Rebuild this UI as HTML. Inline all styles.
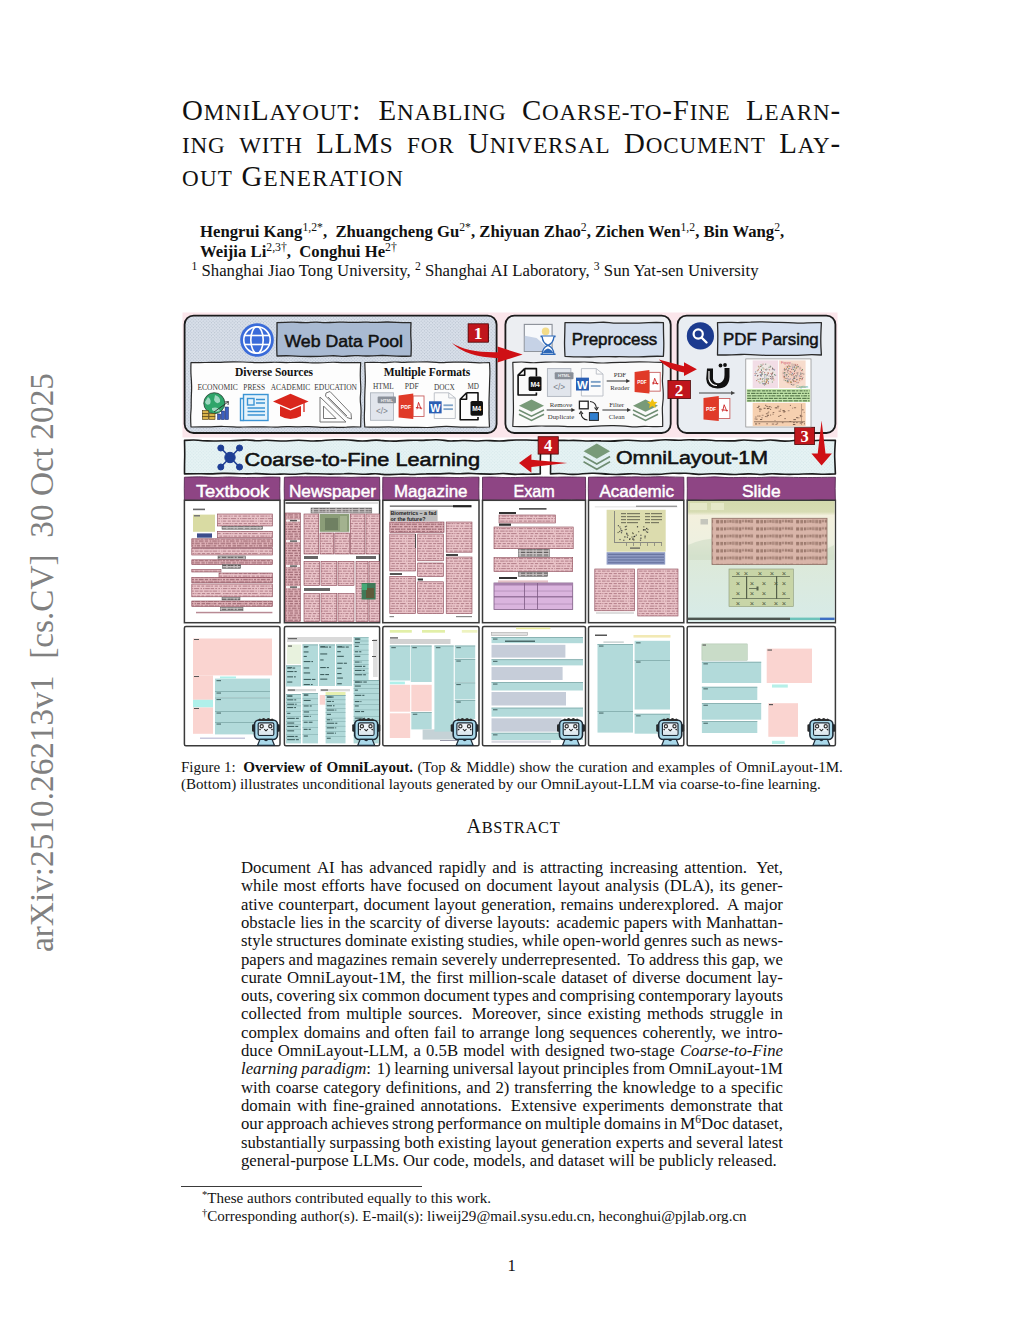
<!DOCTYPE html>
<html><head><meta charset="utf-8">
<style>
html,body{margin:0;padding:0;background:#fff;}
body{width:1024px;height:1325px;position:relative;overflow:hidden;font-family:"Liberation Serif",serif;color:#111;}
.a{position:absolute;}
.ln{position:absolute;white-space:nowrap;}
.fl{position:absolute;display:flex;justify-content:space-between;white-space:nowrap;}
.sc{font-size:0.8em;}
sup{font-size:0.7em;line-height:0;vertical-align:0.5em;font-weight:normal;}
.title{font-size:28.9px;line-height:33px;letter-spacing:0.8px;}
.auth{font-size:16.7px;font-weight:bold;}
.body{font-size:16.73px;line-height:19px;}
.cap{font-size:15.06px;line-height:16.7px;}
.fn{font-size:15.06px;line-height:17px;}
</style></head><body>
<div class="ln" id="arx" style="left:0;top:0;font-size:33.3px;color:#808080;transform-origin:0 0;transform:translate(25px,952px) rotate(-90deg);line-height:1;">arXiv:2510.26213v1&nbsp;&nbsp;[cs.CV]&nbsp;&nbsp;30 Oct 2025</div>
<div class="fl title" style="left:182px;top:93.5px;width:659px;"><span style="margin-right:2px">O<span class="sc">MNI</span>L<span class="sc">AYOUT</span>:</span><span>E<span class="sc">NABLING</span></span><span>C<span class="sc">OARSE-TO</span>-F<span class="sc">INE</span></span><span>L<span class="sc">EARN</span>-</span></div>
<div class="fl title" style="left:182px;top:126.5px;width:659px;"><span><span class="sc">ING</span></span><span><span class="sc">WITH</span></span><span>LLM<span class="sc">S</span></span><span><span class="sc">FOR</span></span><span>U<span class="sc">NIVERSAL</span></span><span>D<span class="sc">OCUMENT</span></span><span>L<span class="sc">AY</span>-</span></div>
<div class="ln title" style="left:182px;top:159.5px;letter-spacing:1.2px;"><span class="sc">OUT</span> G<span class="sc">ENERATION</span></div>
<div class="ln auth" style="left:200px;top:222px;">Hengrui Kang<sup>1,2*</sup>, &nbsp;Zhuangcheng Gu<sup>2*</sup>, Zhiyuan Zhao<sup>2</sup>, Zichen Wen<sup>1,2</sup>, Bin Wang<sup>2</sup>,</div>
<div class="ln auth" style="left:200px;top:242px;">Weijia Li<sup>2,3†</sup>, &nbsp;Conghui He<sup>2†</sup></div>
<div class="ln body" style="left:191.5px;top:261px;"><sup>1</sup> Shanghai Jiao Tong University, <sup>2</sup> Shanghai AI Laboratory, <sup>3</sup> Sun Yat-sen University</div>
<svg class="a" style="left:0;top:0" width="1024" height="760" viewBox="0 0 1024 760"><defs>
<pattern id="hatchA" width="2.3" height="2.3" patternUnits="userSpaceOnUse" patternTransform="rotate(45)"><rect width="2.3" height="2.3" fill="#d9e0ea"/><rect width="1.15" height="1.15" fill="#b9c3d0"/></pattern>
<pattern id="hatchB" width="2.3" height="2.3" patternUnits="userSpaceOnUse" patternTransform="rotate(45)"><rect width="2.3" height="2.3" fill="#e6f3f4"/><rect width="1.15" height="1.15" fill="#d6e8ea"/></pattern>
<pattern id="ptxt" width="37" height="10" patternUnits="userSpaceOnUse"><rect width="37" height="10" fill="#e9c3c8"/><rect x="0.7" y="0.6" width="3.5" height="1.0" fill="#9a606c" opacity="0.7"/><rect x="5.7" y="0.6" width="3.1" height="1.0" fill="#9a606c" opacity="0.7"/><rect x="10.0" y="0.6" width="3.6" height="1.0" fill="#9a606c" opacity="0.7"/><rect x="14.5" y="0.6" width="3.3" height="1.0" fill="#9a606c" opacity="0.7"/><rect x="19.1" y="0.6" width="4.6" height="1.0" fill="#9a606c" opacity="0.7"/><rect x="24.4" y="0.6" width="2.4" height="1.0" fill="#9a606c" opacity="0.7"/><rect x="27.6" y="0.6" width="4.6" height="1.0" fill="#9a606c" opacity="0.7"/><rect x="33.5" y="0.6" width="1.2" height="1.0" fill="#9a606c" opacity="0.7"/><rect x="36.3" y="0.6" width="0.7" height="1.0" fill="#9a606c" opacity="0.7"/><rect x="0.9" y="3.1" width="1.7" height="1.0" fill="#9a606c" opacity="0.7"/><rect x="3.3" y="3.1" width="3.4" height="1.0" fill="#9a606c" opacity="0.7"/><rect x="7.5" y="3.1" width="1.9" height="1.0" fill="#9a606c" opacity="0.7"/><rect x="10.3" y="3.1" width="1.1" height="1.0" fill="#9a606c" opacity="0.7"/><rect x="12.5" y="3.1" width="3.0" height="1.0" fill="#9a606c" opacity="0.7"/><rect x="16.9" y="3.1" width="3.3" height="1.0" fill="#9a606c" opacity="0.7"/><rect x="21.6" y="3.1" width="3.2" height="1.0" fill="#9a606c" opacity="0.7"/><rect x="26.1" y="3.1" width="3.1" height="1.0" fill="#9a606c" opacity="0.7"/><rect x="30.1" y="3.1" width="5.5" height="1.0" fill="#9a606c" opacity="0.7"/><rect x="1.3" y="5.6" width="4.2" height="1.0" fill="#9a606c" opacity="0.7"/><rect x="6.4" y="5.6" width="2.0" height="1.0" fill="#9a606c" opacity="0.7"/><rect x="9.4" y="5.6" width="1.3" height="1.0" fill="#9a606c" opacity="0.7"/><rect x="12.1" y="5.6" width="2.8" height="1.0" fill="#9a606c" opacity="0.7"/><rect x="16.4" y="5.6" width="2.7" height="1.0" fill="#9a606c" opacity="0.7"/><rect x="20.7" y="5.6" width="4.8" height="1.0" fill="#9a606c" opacity="0.7"/><rect x="26.2" y="5.6" width="1.9" height="1.0" fill="#9a606c" opacity="0.7"/><rect x="29.7" y="5.6" width="3.1" height="1.0" fill="#9a606c" opacity="0.7"/><rect x="34.4" y="5.6" width="2.6" height="1.0" fill="#9a606c" opacity="0.7"/><rect x="0.9" y="8.1" width="4.5" height="1.0" fill="#9a606c" opacity="0.7"/><rect x="6.4" y="8.1" width="1.4" height="1.0" fill="#9a606c" opacity="0.7"/><rect x="8.8" y="8.1" width="5.3" height="1.0" fill="#9a606c" opacity="0.7"/><rect x="15.5" y="8.1" width="1.5" height="1.0" fill="#9a606c" opacity="0.7"/><rect x="18.0" y="8.1" width="1.5" height="1.0" fill="#9a606c" opacity="0.7"/><rect x="20.2" y="8.1" width="4.6" height="1.0" fill="#9a606c" opacity="0.7"/><rect x="25.6" y="8.1" width="3.5" height="1.0" fill="#9a606c" opacity="0.7"/><rect x="30.2" y="8.1" width="1.9" height="1.0" fill="#9a606c" opacity="0.7"/><rect x="33.4" y="8.1" width="1.6" height="1.0" fill="#9a606c" opacity="0.7"/><rect x="36.3" y="8.1" width="0.7" height="1.0" fill="#9a606c" opacity="0.7"/></pattern>
<pattern id="ptxt2" width="31" height="9.6" patternUnits="userSpaceOnUse"><rect width="31" height="9.6" fill="#e0b3b9"/><rect x="0.3" y="0.6" width="2.1" height="1.1" fill="#844c58" opacity="0.8"/><rect x="4.0" y="0.6" width="4.2" height="1.1" fill="#844c58" opacity="0.8"/><rect x="9.2" y="0.6" width="4.5" height="1.1" fill="#844c58" opacity="0.8"/><rect x="14.6" y="0.6" width="2.6" height="1.1" fill="#844c58" opacity="0.8"/><rect x="18.6" y="0.6" width="3.6" height="1.1" fill="#844c58" opacity="0.8"/><rect x="23.0" y="0.6" width="5.0" height="1.1" fill="#844c58" opacity="0.8"/><rect x="28.8" y="0.6" width="2.0" height="1.1" fill="#844c58" opacity="0.8"/><rect x="0.5" y="3.0" width="2.2" height="1.1" fill="#844c58" opacity="0.8"/><rect x="3.4" y="3.0" width="1.4" height="1.1" fill="#844c58" opacity="0.8"/><rect x="6.0" y="3.0" width="2.0" height="1.1" fill="#844c58" opacity="0.8"/><rect x="9.2" y="3.0" width="2.5" height="1.1" fill="#844c58" opacity="0.8"/><rect x="12.8" y="3.0" width="4.8" height="1.1" fill="#844c58" opacity="0.8"/><rect x="18.8" y="3.0" width="3.3" height="1.1" fill="#844c58" opacity="0.8"/><rect x="23.6" y="3.0" width="1.7" height="1.1" fill="#844c58" opacity="0.8"/><rect x="26.2" y="3.0" width="4.6" height="1.1" fill="#844c58" opacity="0.8"/><rect x="0.4" y="5.4" width="1.8" height="1.1" fill="#844c58" opacity="0.8"/><rect x="3.5" y="5.4" width="4.8" height="1.1" fill="#844c58" opacity="0.8"/><rect x="9.1" y="5.4" width="4.8" height="1.1" fill="#844c58" opacity="0.8"/><rect x="15.4" y="5.4" width="3.4" height="1.1" fill="#844c58" opacity="0.8"/><rect x="19.9" y="5.4" width="1.4" height="1.1" fill="#844c58" opacity="0.8"/><rect x="22.1" y="5.4" width="4.9" height="1.1" fill="#844c58" opacity="0.8"/><rect x="27.8" y="5.4" width="3.2" height="1.1" fill="#844c58" opacity="0.8"/><rect x="1.2" y="7.8" width="3.4" height="1.1" fill="#844c58" opacity="0.8"/><rect x="5.6" y="7.8" width="1.7" height="1.1" fill="#844c58" opacity="0.8"/><rect x="8.6" y="7.8" width="1.3" height="1.1" fill="#844c58" opacity="0.8"/><rect x="10.8" y="7.8" width="3.2" height="1.1" fill="#844c58" opacity="0.8"/><rect x="15.5" y="7.8" width="3.5" height="1.1" fill="#844c58" opacity="0.8"/><rect x="19.9" y="7.8" width="4.7" height="1.1" fill="#844c58" opacity="0.8"/><rect x="25.5" y="7.8" width="1.1" height="1.1" fill="#844c58" opacity="0.8"/><rect x="27.5" y="7.8" width="2.8" height="1.1" fill="#844c58" opacity="0.8"/></pattern>
<pattern id="gtxt" width="23" height="2.6" patternUnits="userSpaceOnUse"><rect width="23" height="2.6" fill="#cbc6c6"/><rect x="0.3" y="0.6" width="3.2" height="1.1" fill="#5e5a5a" opacity="1"/><rect x="4.6" y="0.6" width="2.1" height="1.1" fill="#5e5a5a" opacity="1"/><rect x="7.8" y="0.6" width="5.5" height="1.1" fill="#5e5a5a" opacity="1"/><rect x="14.8" y="0.6" width="4.5" height="1.1" fill="#5e5a5a" opacity="1"/><rect x="20.6" y="0.6" width="2.4" height="1.1" fill="#5e5a5a" opacity="1"/></pattern>
<pattern id="ltxt" width="6" height="6.5" patternUnits="userSpaceOnUse"><rect width="6" height="6.5" fill="#dab4de"/><rect x="0" y="5.8" width="6" height="0.5" fill="#9a78a0"/></pattern>
<pattern id="stxt" width="40" height="7.3" patternUnits="userSpaceOnUse"><rect width="40" height="7.3" fill="#d9b5a9"/><rect x="0.3" y="1.7" width="2.7" height="3.3" fill="#8a685c" opacity="0.71"/><rect x="3.9" y="1.8" width="2.0" height="3.0" fill="#8a685c" opacity="0.77"/><rect x="6.3" y="1.6" width="2.6" height="3.0" fill="#8a685c" opacity="0.45"/><rect x="9.3" y="1.7" width="2.3" height="2.6" fill="#8a685c" opacity="0.73"/><rect x="12.0" y="1.4" width="2.7" height="3.3" fill="#8a685c" opacity="0.52"/><rect x="15.2" y="1.5" width="3.2" height="3.4" fill="#8a685c" opacity="0.64"/><rect x="19.1" y="1.7" width="2.2" height="3.4" fill="#8a685c" opacity="0.76"/><rect x="21.8" y="1.5" width="2.4" height="2.5" fill="#8a685c" opacity="0.56"/><rect x="24.9" y="1.5" width="2.0" height="2.7" fill="#8a685c" opacity="0.74"/><rect x="27.5" y="1.7" width="2.4" height="2.5" fill="#8a685c" opacity="0.79"/><rect x="30.2" y="1.4" width="2.9" height="3.2" fill="#8a685c" opacity="0.58"/><rect x="36.1" y="1.7" width="3.1" height="3.3" fill="#8a685c" opacity="0.78"/></pattern>
</defs>
<rect x="182.5" y="312.5" width="655.0" height="125.0" rx="0" fill="#fbe6eb" stroke="none" stroke-width="0" />
<rect x="184.6" y="315.6" width="312.0" height="117.4" rx="9" fill="url(#hatchA)" stroke="#1c1c1c" stroke-width="1.8" />
<g transform="translate(257,340)"><circle r="16.8" fill="#3a6bd9"/><circle r="13.2" fill="none" stroke="#fff" stroke-width="1.6"/><ellipse rx="6.2" ry="13.2" fill="none" stroke="#fff" stroke-width="1.6"/><line x1="-13" y1="-4.5" x2="13" y2="-4.5" stroke="#fff" stroke-width="1.6"/><line x1="-13" y1="4.5" x2="13" y2="4.5" stroke="#fff" stroke-width="1.6"/></g>
<path d="M277.0,322.6 Q286.6,322.4 291.4,322.2 Q296.1,322.1 300.9,322.5 Q305.7,322.8 310.5,322.4 Q315.3,322.0 320.1,322.3 Q324.9,322.7 329.6,322.5 Q334.4,322.4 339.2,322.2 Q344.0,322.0 348.8,322.3 Q353.6,322.6 358.4,322.3 Q363.1,322.0 367.9,322.2 Q372.7,322.5 377.5,322.3 Q382.3,322.0 387.1,322.0 Q391.9,322.0 396.6,322.3 Q401.4,322.5 411.0,322.6 Q410.5,333.7 411.0,339.3 Q411.5,344.9 411.0,356.0 Q401.4,356.4 396.6,356.1 Q391.9,355.8 387.1,355.6 Q382.3,355.4 377.5,355.6 Q372.7,355.9 367.9,356.0 Q363.1,356.1 358.4,355.7 Q353.6,355.3 348.8,356.0 Q344.0,356.6 339.2,356.1 Q334.4,355.5 329.6,355.9 Q324.9,356.3 320.1,356.4 Q315.3,356.5 310.5,356.5 Q305.7,356.5 300.9,356.4 Q296.1,356.3 291.4,355.9 Q286.6,355.6 277.0,356.0 Q276.6,344.9 276.8,339.3 Q277.1,333.7 277.0,322.6Z" fill="#a9bad2" stroke="#2a2a2a" stroke-width="1.3" stroke-linejoin="round" />
<text x="284.5" y="346.5" font-family="Liberation Sans" font-size="17" font-weight="normal" fill="#111" text-anchor="start" textLength="118.5" lengthAdjust="spacingAndGlyphs" stroke="#111" stroke-width="0.5">Web Data Pool</text>
<rect x="468.8" y="325.0" width="19.5" height="16.6" rx="0" fill="#c0161c" stroke="#4a0808" stroke-width="0.8" />
<text x="478.6" y="338.6" font-family="Liberation Serif" font-size="15.770000000000021" font-weight="bold" fill="#fff" text-anchor="middle" >1</text>
<path d="M191.0,362.5 Q200.4,362.7 205.1,362.5 Q209.9,362.3 214.6,362.4 Q219.3,362.6 224.0,362.2 Q228.7,361.9 233.4,361.9 Q238.1,361.9 242.9,362.0 Q247.6,362.1 252.3,362.4 Q257.0,362.8 261.7,362.6 Q266.4,362.4 271.1,362.3 Q275.9,362.2 280.6,362.4 Q285.3,362.6 290.0,362.5 Q294.7,362.4 299.4,362.3 Q304.1,362.2 308.8,362.6 Q313.6,362.9 318.3,362.8 Q323.0,362.8 327.7,362.5 Q332.4,362.1 337.1,362.4 Q341.8,362.6 346.6,362.6 Q351.3,362.5 360.7,362.5 Q360.2,371.7 360.3,376.3 Q360.4,380.9 360.7,385.5 Q361.0,390.1 360.5,394.8 Q360.0,399.4 360.6,404.0 Q361.2,408.6 361.0,413.2 Q360.8,417.8 360.7,427.0 Q351.3,426.6 346.6,427.1 Q341.8,427.5 337.1,427.3 Q332.4,427.0 327.7,427.3 Q323.0,427.6 318.3,427.2 Q313.6,426.8 308.8,426.7 Q304.1,426.6 299.4,426.8 Q294.7,426.9 290.0,426.7 Q285.3,426.5 280.6,426.9 Q275.9,427.3 271.1,427.0 Q266.4,426.7 261.7,426.8 Q257.0,426.9 252.3,426.9 Q247.6,426.9 242.9,427.0 Q238.1,427.1 233.4,426.8 Q228.7,426.5 224.0,426.5 Q219.3,426.4 214.6,426.7 Q209.9,427.0 205.1,426.9 Q200.4,426.8 191.0,427.0 Q190.4,417.8 190.8,413.2 Q191.3,408.6 191.2,404.0 Q191.2,399.4 191.4,394.8 Q191.7,390.1 191.6,385.5 Q191.5,380.9 191.1,376.3 Q190.7,371.7 191.0,362.5Z" fill="#fdfdfd" stroke="#2a2a2a" stroke-width="1.2" stroke-linejoin="round" />
<text x="274.0" y="375.5" font-family="Liberation Serif" font-size="11.5" font-weight="bold" fill="#111" text-anchor="middle" >Diverse Sources</text>
<text x="197.4" y="389.6" font-family="Liberation Serif" font-size="7.3" font-weight="normal" fill="#3a3a3a" text-anchor="start" textLength="40.3" lengthAdjust="spacingAndGlyphs" >ECONOMIC</text>
<text x="243.3" y="389.6" font-family="Liberation Serif" font-size="7.3" font-weight="normal" fill="#3a3a3a" text-anchor="start" textLength="21.7" lengthAdjust="spacingAndGlyphs" >PRESS</text>
<text x="270.7" y="389.6" font-family="Liberation Serif" font-size="7.3" font-weight="normal" fill="#3a3a3a" text-anchor="start" textLength="39.5" lengthAdjust="spacingAndGlyphs" >ACADEMIC</text>
<text x="314.2" y="389.6" font-family="Liberation Serif" font-size="7.3" font-weight="normal" fill="#3a3a3a" text-anchor="start" textLength="42.8" lengthAdjust="spacingAndGlyphs" >EDUCATION</text>
<path d="M364.8,362.5 Q374.4,362.3 379.2,362.5 Q384.0,362.7 388.8,362.3 Q393.6,361.8 398.4,362.1 Q403.2,362.4 408.0,362.2 Q412.8,362.0 417.6,362.0 Q422.4,362.0 427.1,361.9 Q431.9,361.9 436.7,362.4 Q441.5,362.9 446.3,362.4 Q451.1,362.0 455.9,362.1 Q460.7,362.1 465.5,362.2 Q470.3,362.3 475.1,362.7 Q479.9,363.0 489.5,362.5 Q490.1,371.7 489.8,376.3 Q489.6,380.9 489.5,385.5 Q489.4,390.1 489.2,394.8 Q489.0,399.4 489.0,404.0 Q489.1,408.6 489.0,413.2 Q489.0,417.8 489.5,427.0 Q479.9,427.3 475.1,427.2 Q470.3,427.1 465.5,427.2 Q460.7,427.2 455.9,426.8 Q451.1,426.5 446.3,426.4 Q441.5,426.4 436.7,426.9 Q431.9,427.5 427.1,427.5 Q422.4,427.5 417.6,427.4 Q412.8,427.4 408.0,427.4 Q403.2,427.4 398.4,427.2 Q393.6,427.0 388.8,426.9 Q384.0,426.9 379.2,427.1 Q374.4,427.3 364.8,427.0 Q364.1,417.8 364.4,413.2 Q364.7,408.6 364.7,404.0 Q364.6,399.4 364.8,394.8 Q364.9,390.1 365.2,385.5 Q365.4,380.9 365.3,376.3 Q365.1,371.7 364.8,362.5Z" fill="#fdfdfd" stroke="#2a2a2a" stroke-width="1.2" stroke-linejoin="round" />
<text x="427.0" y="375.5" font-family="Liberation Serif" font-size="11.5" font-weight="bold" fill="#111" text-anchor="middle" >Multiple Formats</text>
<text x="373.0" y="388.8" font-family="Liberation Serif" font-size="7.3" font-weight="normal" fill="#3a3a3a" text-anchor="start" textLength="20.7" lengthAdjust="spacingAndGlyphs" >HTML</text>
<text x="404.7" y="388.8" font-family="Liberation Serif" font-size="7.3" font-weight="normal" fill="#3a3a3a" text-anchor="start" textLength="14.0" lengthAdjust="spacingAndGlyphs" >PDF</text>
<text x="434.0" y="389.5" font-family="Liberation Serif" font-size="7.3" font-weight="normal" fill="#3a3a3a" text-anchor="start" textLength="20.7" lengthAdjust="spacingAndGlyphs" >DOCX</text>
<text x="467.5" y="388.8" font-family="Liberation Serif" font-size="7.3" font-weight="normal" fill="#3a3a3a" text-anchor="start" textLength="11.5" lengthAdjust="spacingAndGlyphs" >MD</text>
<rect x="505.4" y="315.6" width="165.3" height="117.4" rx="9" fill="#eceef2" stroke="#1c1c1c" stroke-width="1.8" />
<path d="M565.0,322.6 Q574.8,322.6 579.8,322.7 Q584.7,322.8 589.6,322.8 Q594.5,322.8 599.4,322.4 Q604.4,322.0 609.3,322.6 Q614.2,323.2 619.1,323.1 Q624.0,323.0 629.0,323.1 Q633.9,323.1 638.8,323.1 Q643.7,323.0 648.6,322.7 Q653.6,322.4 663.4,322.6 Q663.5,333.8 663.7,339.5 Q664.0,345.1 663.4,356.3 Q653.6,356.1 648.6,356.5 Q643.7,356.9 638.8,356.9 Q633.9,356.9 629.0,356.8 Q624.0,356.7 619.1,356.7 Q614.2,356.8 609.3,356.6 Q604.4,356.5 599.4,356.7 Q594.5,356.9 589.6,357.0 Q584.7,357.0 579.8,356.9 Q574.8,356.8 565.0,356.3 Q564.4,345.1 564.6,339.5 Q564.8,333.8 565.0,322.6Z" fill="#d5dfee" stroke="#2a2a2a" stroke-width="1.3" stroke-linejoin="round" />
<text x="571.8" y="344.8" font-family="Liberation Sans" font-size="16.5" font-weight="normal" fill="#111" text-anchor="start" textLength="85.5" lengthAdjust="spacingAndGlyphs" stroke="#111" stroke-width="0.5">Preprocess</text>
<path d="M512.8,362.4 Q522.2,361.7 526.9,362.3 Q531.5,362.9 536.2,362.7 Q540.9,362.6 545.6,362.2 Q550.3,361.9 555.0,362.0 Q559.6,362.1 564.3,362.1 Q569.0,362.2 573.7,362.2 Q578.4,362.2 583.1,362.0 Q587.8,361.9 592.4,362.4 Q597.1,362.9 601.8,363.0 Q606.5,363.1 611.2,362.7 Q615.9,362.4 620.5,362.4 Q625.2,362.4 629.9,362.1 Q634.6,361.8 639.3,361.8 Q644.0,361.8 648.6,362.0 Q653.3,362.2 662.7,362.4 Q663.0,371.5 662.6,376.1 Q662.2,380.7 662.7,385.2 Q663.2,389.8 663.3,394.4 Q663.4,398.9 662.7,403.5 Q662.1,408.0 662.4,412.6 Q662.7,417.2 662.7,426.3 Q653.3,426.8 648.6,426.5 Q644.0,426.2 639.3,426.6 Q634.6,427.0 629.9,426.6 Q625.2,426.3 620.5,425.9 Q615.9,425.6 611.2,425.7 Q606.5,425.8 601.8,425.9 Q597.1,426.0 592.4,426.3 Q587.8,426.6 583.1,426.6 Q578.4,426.5 573.7,426.6 Q569.0,426.8 564.3,426.3 Q559.6,425.9 555.0,426.1 Q550.3,426.3 545.6,426.1 Q540.9,425.9 536.2,426.2 Q531.5,426.5 526.9,426.6 Q522.2,426.7 512.8,426.3 Q513.2,417.2 513.4,412.6 Q513.5,408.0 513.4,403.5 Q513.3,398.9 513.3,394.4 Q513.2,389.8 513.2,385.2 Q513.2,380.7 513.2,376.1 Q513.1,371.5 512.8,362.4Z" fill="#fafafa" stroke="#2a2a2a" stroke-width="1.2" stroke-linejoin="round" />
<rect x="677.6" y="315.6" width="157.8" height="117.4" rx="9" fill="#e9edf2" stroke="#1c1c1c" stroke-width="1.8" />
<path d="M717.5,322.6 Q726.9,322.2 731.7,322.4 Q736.4,322.6 741.1,322.5 Q745.8,322.4 750.6,322.2 Q755.3,321.9 760.0,321.9 Q764.7,321.9 769.5,322.1 Q774.2,322.3 778.9,322.3 Q783.6,322.3 788.3,322.6 Q793.1,322.9 797.8,323.1 Q802.5,323.2 807.2,322.9 Q812.0,322.5 821.4,322.6 Q820.8,333.4 820.8,338.8 Q820.7,344.2 821.4,355.0 Q812.0,354.4 807.2,354.8 Q802.5,355.2 797.8,355.3 Q793.1,355.4 788.3,355.4 Q783.6,355.4 778.9,355.4 Q774.2,355.4 769.5,355.4 Q764.7,355.4 760.0,355.1 Q755.3,354.8 750.6,354.6 Q745.8,354.4 741.1,354.5 Q736.4,354.5 731.7,354.8 Q726.9,355.0 717.5,355.0 Q717.7,344.2 717.8,338.8 Q717.9,333.4 717.5,322.6Z" fill="#d5e0f0" stroke="#2a2a2a" stroke-width="1.3" stroke-linejoin="round" />
<text x="723.0" y="345.2" font-family="Liberation Sans" font-size="16.5" font-weight="normal" fill="#111" text-anchor="start" textLength="95.7" lengthAdjust="spacingAndGlyphs" stroke="#111" stroke-width="0.5">PDF Parsing</text>
<path d="M184.5,440.4 Q193.6,439.7 198.2,440.2 Q202.7,440.7 207.3,440.9 Q211.9,441.1 216.4,441.0 Q221.0,440.9 225.6,440.8 Q230.1,440.8 234.7,440.6 Q239.2,440.4 243.8,440.1 Q248.4,439.9 252.9,440.4 Q257.5,440.9 262.0,440.5 Q266.6,440.1 271.2,440.5 Q275.7,440.9 280.3,441.0 Q284.9,441.2 289.4,440.7 Q294.0,440.2 298.5,440.2 Q303.1,440.2 307.7,440.7 Q312.2,441.1 316.8,440.9 Q321.3,440.8 325.9,440.3 Q330.5,439.9 335.0,439.8 Q339.6,439.8 344.2,439.8 Q348.7,439.8 353.3,440.4 Q357.8,441.0 362.4,441.0 Q367.0,440.9 371.5,440.4 Q376.1,439.8 380.6,440.4 Q385.2,440.9 389.8,441.0 Q394.3,441.2 398.9,440.9 Q403.5,440.7 408.0,440.4 Q412.6,440.2 417.1,440.3 Q421.7,440.5 426.3,440.1 Q430.8,439.8 435.4,439.7 Q439.9,439.6 444.5,440.4 Q449.1,441.2 453.6,440.9 Q458.2,440.6 462.8,440.5 Q467.3,440.4 471.9,440.8 Q476.4,441.1 481.0,440.7 Q485.6,440.3 490.1,440.6 Q494.7,441.0 499.2,441.0 Q503.8,440.9 508.4,440.4 Q512.9,439.9 517.5,440.0 Q522.1,440.0 526.6,440.0 Q531.2,440.1 540.3,440.4 Q540.7,451.6 540.4,457.1 Q540.2,462.7 540.3,473.9 Q531.2,474.3 526.6,474.2 Q522.1,474.0 517.5,474.3 Q512.9,474.5 508.4,473.9 Q503.8,473.2 499.2,473.7 Q494.7,474.1 490.1,474.1 Q485.6,474.0 481.0,473.9 Q476.4,473.8 471.9,473.5 Q467.3,473.3 462.8,473.6 Q458.2,474.0 453.6,473.6 Q449.1,473.2 444.5,473.6 Q439.9,473.9 435.4,473.9 Q430.8,473.8 426.3,473.9 Q421.7,473.9 417.1,474.3 Q412.6,474.7 408.0,474.3 Q403.5,474.0 398.9,474.2 Q394.3,474.4 389.8,474.6 Q385.2,474.7 380.6,474.1 Q376.1,473.4 371.5,473.9 Q367.0,474.4 362.4,474.2 Q357.8,473.9 353.3,473.7 Q348.7,473.5 344.2,473.7 Q339.6,473.8 335.0,474.0 Q330.5,474.2 325.9,474.0 Q321.3,473.9 316.8,473.8 Q312.2,473.8 307.7,473.6 Q303.1,473.4 298.5,474.0 Q294.0,474.5 289.4,474.2 Q284.9,473.8 280.3,474.1 Q275.7,474.3 271.2,474.3 Q266.6,474.3 262.0,473.9 Q257.5,473.5 252.9,473.7 Q248.4,473.9 243.8,473.8 Q239.2,473.8 234.7,473.6 Q230.1,473.5 225.6,473.4 Q221.0,473.2 216.4,473.6 Q211.9,474.0 207.3,473.9 Q202.7,473.7 198.2,473.8 Q193.6,473.9 184.5,473.9 Q184.5,462.7 184.7,457.1 Q184.8,451.6 184.5,440.4Z" fill="url(#hatchB)" stroke="#1c1c1c" stroke-width="1.6" stroke-linejoin="round" />
<path d="M550.5,440.4 Q559.7,440.3 564.3,440.4 Q568.9,440.5 573.5,440.4 Q578.1,440.4 582.7,440.7 Q587.3,441.1 591.9,440.9 Q596.5,440.7 601.0,440.9 Q605.6,441.0 610.2,441.1 Q614.8,441.1 619.4,440.6 Q624.0,440.0 628.6,440.3 Q633.2,440.5 637.8,440.8 Q642.4,441.1 647.0,441.0 Q651.6,440.9 656.2,440.4 Q660.8,439.8 665.4,439.8 Q670.0,439.8 674.6,440.1 Q679.2,440.3 683.8,440.0 Q688.4,439.7 693.0,439.9 Q697.5,440.0 702.1,439.9 Q706.7,439.7 711.3,440.2 Q715.9,440.7 720.5,440.8 Q725.1,440.9 729.7,440.9 Q734.3,441.0 738.9,440.4 Q743.5,439.8 748.1,440.3 Q752.7,440.7 757.3,440.7 Q761.9,440.7 766.5,440.2 Q771.1,439.8 775.7,440.4 Q780.3,441.0 784.9,441.1 Q789.4,441.1 794.0,440.5 Q798.6,440.0 803.2,440.5 Q807.8,441.1 812.4,440.7 Q817.0,440.2 821.6,440.3 Q826.2,440.4 835.4,440.4 Q834.6,451.6 834.7,457.1 Q834.9,462.7 835.4,473.9 Q826.2,474.4 821.6,474.2 Q817.0,474.0 812.4,473.9 Q807.8,473.9 803.2,474.0 Q798.6,474.2 794.0,474.3 Q789.4,474.4 784.9,474.3 Q780.3,474.2 775.7,473.9 Q771.1,473.5 766.5,474.1 Q761.9,474.7 757.3,474.2 Q752.7,473.8 748.1,473.9 Q743.5,474.0 738.9,474.3 Q734.3,474.7 729.7,474.4 Q725.1,474.2 720.5,473.9 Q715.9,473.7 711.3,473.8 Q706.7,473.9 702.1,474.2 Q697.5,474.6 693.0,473.9 Q688.4,473.1 683.8,473.3 Q679.2,473.4 674.6,473.3 Q670.0,473.1 665.4,473.8 Q660.8,474.5 656.2,474.4 Q651.6,474.3 647.0,474.5 Q642.4,474.6 637.8,474.0 Q633.2,473.5 628.6,473.9 Q624.0,474.3 619.4,474.4 Q614.8,474.5 610.2,474.3 Q605.6,474.0 601.0,473.6 Q596.5,473.2 591.9,473.3 Q587.3,473.4 582.7,473.8 Q578.1,474.3 573.5,474.4 Q568.9,474.5 564.3,473.8 Q559.7,473.2 550.5,473.9 Q550.6,462.7 550.7,457.1 Q550.8,451.6 550.5,440.4Z" fill="url(#hatchB)" stroke="#1c1c1c" stroke-width="1.6" stroke-linejoin="round" />
<text x="244.5" y="465.5" font-family="Liberation Sans" font-size="18.8" font-weight="normal" fill="#111" text-anchor="start" textLength="235.5" lengthAdjust="spacingAndGlyphs" stroke="#111" stroke-width="0.55">Coarse-to-Fine Learning</text>
<text x="616.0" y="464.0" font-family="Liberation Sans" font-size="18.8" font-weight="normal" fill="#111" text-anchor="start" textLength="152.0" lengthAdjust="spacingAndGlyphs" stroke="#111" stroke-width="0.55">OmniLayout-1M</text>
<path d="M184.4,477.2 Q194.0,476.8 198.7,476.8 Q203.5,476.8 208.3,477.1 Q213.1,477.4 217.9,477.3 Q222.6,477.1 227.4,476.9 Q232.2,476.8 237.0,477.2 Q241.8,477.6 246.5,477.5 Q251.3,477.3 256.1,477.4 Q260.9,477.5 265.7,477.1 Q270.4,476.8 280.0,477.2 Q279.6,488.8 280.0,500.3 Q270.4,500.7 265.7,500.3 Q260.9,499.9 256.1,500.1 Q251.3,500.3 246.5,500.4 Q241.8,500.5 237.0,500.4 Q232.2,500.2 227.4,500.1 Q222.6,499.9 217.9,500.2 Q213.1,500.5 208.3,500.6 Q203.5,500.7 198.7,500.5 Q194.0,500.3 184.4,500.3 Q184.1,488.8 184.4,477.2Z" fill="#8e4584" stroke="#4a1e46" stroke-width="0.8" stroke-linejoin="round" />
<text x="195.9" y="496.5" font-family="Liberation Sans" font-size="16.5" font-weight="normal" fill="#fff" text-anchor="start" textLength="73.4" lengthAdjust="spacingAndGlyphs" stroke="#fff" stroke-width="0.45">Textbook</text>
<path d="M284.4,477.2 Q293.9,476.8 298.7,476.8 Q303.4,476.9 308.2,476.8 Q313.0,476.8 317.7,476.8 Q322.5,476.9 327.2,477.0 Q332.0,477.0 336.8,477.0 Q341.5,477.0 346.3,477.2 Q351.0,477.5 355.8,477.2 Q360.6,477.0 365.3,477.1 Q370.1,477.2 379.6,477.2 Q379.9,488.8 379.6,500.3 Q370.1,500.5 365.3,500.6 Q360.6,500.8 355.8,500.7 Q351.0,500.5 346.3,500.7 Q341.5,500.8 336.8,500.4 Q332.0,500.1 327.2,500.2 Q322.5,500.2 317.7,500.4 Q313.0,500.6 308.2,500.5 Q303.4,500.3 298.7,500.1 Q293.9,499.9 284.4,500.3 Q284.0,488.8 284.4,477.2Z" fill="#8e4584" stroke="#4a1e46" stroke-width="0.8" stroke-linejoin="round" />
<text x="288.9" y="496.5" font-family="Liberation Sans" font-size="16.5" font-weight="normal" fill="#fff" text-anchor="start" textLength="87.1" lengthAdjust="spacingAndGlyphs" stroke="#fff" stroke-width="0.45">Newspaper</text>
<path d="M382.8,477.2 Q392.4,477.5 397.2,477.3 Q402.0,477.1 406.9,477.2 Q411.7,477.2 416.5,477.4 Q421.3,477.5 426.1,477.3 Q430.9,477.1 435.7,477.1 Q440.5,477.2 445.3,477.3 Q450.1,477.4 454.9,477.5 Q459.8,477.7 464.6,477.4 Q469.4,477.0 479.0,477.2 Q478.7,488.8 479.0,500.3 Q469.4,500.1 464.6,500.1 Q459.8,500.2 454.9,500.3 Q450.1,500.4 445.3,500.4 Q440.5,500.5 435.7,500.6 Q430.9,500.7 426.1,500.7 Q421.3,500.7 416.5,500.7 Q411.7,500.7 406.9,500.4 Q402.0,500.1 397.2,500.3 Q392.4,500.5 382.8,500.3 Q382.5,488.8 382.8,477.2Z" fill="#8e4584" stroke="#4a1e46" stroke-width="0.8" stroke-linejoin="round" />
<text x="394.0" y="496.5" font-family="Liberation Sans" font-size="16.5" font-weight="normal" fill="#fff" text-anchor="start" textLength="73.5" lengthAdjust="spacingAndGlyphs" stroke="#fff" stroke-width="0.45">Magazine</text>
<path d="M482.5,477.2 Q491.9,476.8 496.5,477.2 Q501.2,477.5 505.9,477.6 Q510.6,477.6 515.3,477.5 Q520.0,477.4 524.6,477.2 Q529.3,477.0 534.0,477.0 Q538.7,476.9 543.4,477.0 Q548.0,477.0 552.7,477.1 Q557.4,477.2 562.1,477.0 Q566.8,476.9 571.5,477.0 Q576.1,477.1 585.5,477.2 Q585.7,488.8 585.5,500.3 Q576.1,499.8 571.5,499.8 Q566.8,499.8 562.1,500.0 Q557.4,500.3 552.7,500.4 Q548.0,500.6 543.4,500.2 Q538.7,499.8 534.0,500.2 Q529.3,500.5 524.6,500.5 Q520.0,500.4 515.3,500.6 Q510.6,500.8 505.9,500.6 Q501.2,500.4 496.5,500.4 Q491.9,500.3 482.5,500.3 Q482.5,488.8 482.5,477.2Z" fill="#8e4584" stroke="#4a1e46" stroke-width="0.8" stroke-linejoin="round" />
<text x="513.4" y="496.5" font-family="Liberation Sans" font-size="16.5" font-weight="normal" fill="#fff" text-anchor="start" textLength="41.5" lengthAdjust="spacingAndGlyphs" stroke="#fff" stroke-width="0.45">Exam</text>
<path d="M588.5,477.2 Q598.0,476.9 602.8,477.1 Q607.6,477.2 612.3,477.0 Q617.1,476.7 621.9,476.8 Q626.6,477.0 631.4,476.9 Q636.1,476.8 640.9,476.9 Q645.7,477.1 650.4,476.9 Q655.2,476.7 660.0,476.7 Q664.7,476.7 669.5,476.9 Q674.3,477.0 683.8,477.2 Q684.1,488.8 683.8,500.3 Q674.3,500.2 669.5,500.2 Q664.7,500.3 660.0,500.2 Q655.2,500.0 650.4,500.1 Q645.7,500.1 640.9,500.1 Q636.1,500.1 631.4,500.0 Q626.6,499.9 621.9,500.2 Q617.1,500.4 612.3,500.4 Q607.6,500.5 602.8,500.1 Q598.0,499.8 588.5,500.3 Q588.1,488.8 588.5,477.2Z" fill="#8e4584" stroke="#4a1e46" stroke-width="0.8" stroke-linejoin="round" />
<text x="599.5" y="496.5" font-family="Liberation Sans" font-size="16.5" font-weight="normal" fill="#fff" text-anchor="start" textLength="74.5" lengthAdjust="spacingAndGlyphs" stroke="#fff" stroke-width="0.45">Academic</text>
<path d="M687.2,477.2 Q696.5,477.4 701.1,477.4 Q705.7,477.3 710.4,477.0 Q715.0,476.7 719.6,477.1 Q724.2,477.5 728.9,477.6 Q733.5,477.6 738.1,477.5 Q742.8,477.3 747.4,477.4 Q752.0,477.4 756.7,477.5 Q761.3,477.5 765.9,477.2 Q770.6,476.8 775.2,477.0 Q779.8,477.2 784.5,477.2 Q789.1,477.2 793.7,477.4 Q798.4,477.5 803.0,477.5 Q807.6,477.5 812.2,477.5 Q816.9,477.5 821.5,477.4 Q826.1,477.3 835.4,477.2 Q835.0,488.8 835.4,500.3 Q826.1,500.1 821.5,500.1 Q816.9,500.1 812.2,500.3 Q807.6,500.6 803.0,500.7 Q798.4,500.8 793.7,500.7 Q789.1,500.7 784.5,500.6 Q779.8,500.4 775.2,500.6 Q770.6,500.7 765.9,500.3 Q761.3,500.0 756.7,500.1 Q752.0,500.2 747.4,500.2 Q742.8,500.2 738.1,500.2 Q733.5,500.2 728.9,500.1 Q724.2,500.1 719.6,500.2 Q715.0,500.3 710.4,500.6 Q705.7,500.8 701.1,500.4 Q696.5,500.0 687.2,500.3 Q687.4,488.8 687.2,477.2Z" fill="#8e4584" stroke="#4a1e46" stroke-width="0.8" stroke-linejoin="round" />
<text x="742.0" y="496.5" font-family="Liberation Sans" font-size="16.5" font-weight="normal" fill="#fff" text-anchor="start" textLength="38.6" lengthAdjust="spacingAndGlyphs" stroke="#fff" stroke-width="0.45">Slide</text>
<rect x="184.4" y="500.3" width="95.6" height="122.4" rx="0" fill="#ffffff" stroke="#3a3a3a" stroke-width="1.5" />
<rect x="184.4" y="626.5" width="95.6" height="119.2" rx="1.5" fill="#ffffff" stroke="#3a3a3a" stroke-width="1.5" />
<rect x="284.4" y="500.3" width="95.2" height="122.4" rx="0" fill="#ffffff" stroke="#3a3a3a" stroke-width="1.5" />
<rect x="284.4" y="626.5" width="95.2" height="119.2" rx="1.5" fill="#ffffff" stroke="#3a3a3a" stroke-width="1.5" />
<rect x="382.8" y="500.3" width="96.2" height="122.4" rx="0" fill="#ffffff" stroke="#3a3a3a" stroke-width="1.5" />
<rect x="382.8" y="626.5" width="96.2" height="119.2" rx="1.5" fill="#ffffff" stroke="#3a3a3a" stroke-width="1.5" />
<rect x="482.5" y="500.3" width="103.0" height="122.4" rx="0" fill="#ffffff" stroke="#3a3a3a" stroke-width="1.5" />
<rect x="482.5" y="626.5" width="103.0" height="119.2" rx="1.5" fill="#ffffff" stroke="#3a3a3a" stroke-width="1.5" />
<rect x="588.5" y="500.3" width="95.3" height="122.4" rx="0" fill="#ffffff" stroke="#3a3a3a" stroke-width="1.5" />
<rect x="588.5" y="626.5" width="95.3" height="119.2" rx="1.5" fill="#ffffff" stroke="#3a3a3a" stroke-width="1.5" />
<rect x="687.2" y="500.3" width="148.2" height="122.4" rx="0" fill="#ffffff" stroke="#3a3a3a" stroke-width="1.5" />
<rect x="687.2" y="626.5" width="148.2" height="119.2" rx="1.5" fill="#ffffff" stroke="#3a3a3a" stroke-width="1.5" />
<rect x="193.0" y="508.6" width="12.0" height="1.6" rx="0" fill="#666" stroke="none" stroke-width="0" />
<rect x="193.0" y="514.6" width="22.0" height="17.2" rx="0" fill="#d9dba3" stroke="none" stroke-width="0" />
<rect x="194.0" y="515.0" width="6.0" height="1.5" rx="0" fill="#777" stroke="none" stroke-width="0" />
<rect x="197.0" y="533.4" width="15.0" height="4.3" rx="0" fill="#3c4d8c" stroke="none" stroke-width="0" />
<rect x="217.6" y="514.0" width="54.8" height="12.0" rx="0" fill="url(#ptxt)" stroke="#8a4655" stroke-width="0.6" />
<rect x="222.0" y="526.5" width="40.7" height="2.7" rx="0" fill="url(#gtxt)" stroke="#555" stroke-width="0.5" />
<rect x="217.6" y="531.3" width="54.8" height="6.4" rx="0" fill="url(#ptxt)" stroke="#8a4655" stroke-width="0.6" />
<rect x="191.8" y="538.8" width="80.6" height="8.6" rx="0" fill="url(#ptxt2)" stroke="#8a4655" stroke-width="0.6" />
<rect x="191.8" y="548.5" width="80.6" height="6.5" rx="0" fill="url(#ptxt)" stroke="#8a4655" stroke-width="0.6" />
<rect x="218.0" y="556.0" width="27.5" height="3.2" rx="0" fill="url(#gtxt)" stroke="#555" stroke-width="0.5" />
<rect x="191.8" y="559.8" width="80.6" height="4.8" rx="0" fill="url(#ptxt2)" stroke="#8a4655" stroke-width="0.6" />
<rect x="222.4" y="564.4" width="18.3" height="4.0" rx="0" fill="url(#gtxt)" stroke="#555" stroke-width="0.5" />
<rect x="191.8" y="569.4" width="29.2" height="2.6" rx="0" fill="url(#ptxt)" stroke="#8a4655" stroke-width="0.6" />
<rect x="219.0" y="573.0" width="53.4" height="4.5" rx="0" fill="url(#ptxt)" stroke="#8a4655" stroke-width="0.6" />
<rect x="191.8" y="577.5" width="80.6" height="5.3" rx="0" fill="url(#ptxt2)" stroke="#8a4655" stroke-width="0.6" />
<rect x="191.8" y="584.0" width="80.6" height="12.8" rx="0" fill="url(#ptxt)" stroke="#8a4655" stroke-width="0.6" />
<rect x="222.0" y="597.4" width="18.0" height="2.6" rx="0" fill="url(#gtxt)" stroke="#555" stroke-width="0.5" />
<rect x="191.8" y="601.0" width="80.6" height="5.5" rx="0" fill="url(#ptxt2)" stroke="#8a4655" stroke-width="0.6" />
<rect x="220.6" y="607.5" width="22.4" height="3.3" rx="0" fill="url(#gtxt)" stroke="#555" stroke-width="0.5" />
<rect x="196.0" y="611.8" width="76.4" height="1.5" rx="0" fill="#b88a94" stroke="none" stroke-width="0" />
<rect x="285.5" y="502.0" width="44.5" height="2.0" rx="0" fill="#666" stroke="none" stroke-width="0" />
<rect x="330.0" y="502.5" width="48.0" height="1.0" rx="0" fill="#bbb" stroke="none" stroke-width="0" />
<rect x="311.0" y="508.0" width="60.8" height="5.0" rx="0" fill="url(#gtxt)" stroke="#555" stroke-width="0.5" />
<rect x="285.4" y="513.0" width="15.0" height="108.5" rx="0" fill="url(#ptxt2)" stroke="#8a4655" stroke-width="0.6" />
<rect x="286.0" y="519.5" width="14.0" height="2.2" rx="0" fill="#f4eeee" stroke="none" stroke-width="0" />
<rect x="290.0" y="519.9" width="7.0" height="1.4" rx="0" fill="#555" stroke="none" stroke-width="0" />
<rect x="286.0" y="540.0" width="14.0" height="2.2" rx="0" fill="#f4eeee" stroke="none" stroke-width="0" />
<rect x="290.0" y="540.4" width="7.0" height="1.4" rx="0" fill="#555" stroke="none" stroke-width="0" />
<rect x="286.0" y="565.0" width="14.0" height="2.2" rx="0" fill="#f4eeee" stroke="none" stroke-width="0" />
<rect x="290.0" y="565.4" width="7.0" height="1.4" rx="0" fill="#555" stroke="none" stroke-width="0" />
<rect x="286.0" y="586.0" width="14.0" height="2.2" rx="0" fill="#f4eeee" stroke="none" stroke-width="0" />
<rect x="290.0" y="586.4" width="7.0" height="1.4" rx="0" fill="#555" stroke="none" stroke-width="0" />
<rect x="304.0" y="514.0" width="14.7" height="40.0" rx="0" fill="url(#ptxt)" stroke="#8a4655" stroke-width="0.6" />
<rect x="319.7" y="514.0" width="29.6" height="17.8" rx="0" fill="#8b9d78" stroke="none" stroke-width="0" />
<rect x="325.0" y="518.0" width="13.0" height="12.0" rx="0" fill="#6f8062" stroke="none" stroke-width="0" />
<rect x="340.0" y="516.0" width="7.0" height="15.0" rx="0" fill="#a3b28f" stroke="none" stroke-width="0" />
<rect x="320.0" y="533.0" width="13.7" height="21.0" rx="0" fill="url(#ptxt)" stroke="#8a4655" stroke-width="0.6" />
<rect x="334.8" y="533.0" width="14.5" height="21.0" rx="0" fill="url(#ptxt)" stroke="#8a4655" stroke-width="0.6" />
<rect x="350.4" y="514.0" width="14.5" height="40.0" rx="0" fill="url(#ptxt)" stroke="#8a4655" stroke-width="0.6" />
<rect x="366.0" y="514.0" width="13.4" height="40.0" rx="0" fill="url(#ptxt)" stroke="#8a4655" stroke-width="0.6" />
<rect x="304.0" y="556.0" width="14.0" height="3.0" rx="0" fill="#666" stroke="none" stroke-width="0" />
<rect x="356.0" y="556.0" width="20.0" height="3.0" rx="0" fill="#666" stroke="none" stroke-width="0" />
<rect x="304.0" y="561.4" width="15.6" height="24.1" rx="0" fill="url(#ptxt)" stroke="#8a4655" stroke-width="0.6" />
<rect x="321.0" y="561.4" width="15.8" height="24.1" rx="0" fill="url(#ptxt)" stroke="#8a4655" stroke-width="0.6" />
<rect x="338.0" y="561.4" width="16.0" height="24.1" rx="0" fill="url(#ptxt)" stroke="#8a4655" stroke-width="0.6" />
<rect x="356.0" y="561.4" width="12.0" height="60.1" rx="0" fill="url(#ptxt)" stroke="#8a4655" stroke-width="0.6" />
<rect x="369.0" y="561.4" width="10.4" height="60.1" rx="0" fill="url(#ptxt)" stroke="#8a4655" stroke-width="0.6" />
<rect x="304.0" y="588.0" width="26.0" height="3.0" rx="0" fill="#666" stroke="none" stroke-width="0" />
<rect x="304.0" y="593.6" width="15.6" height="27.9" rx="0" fill="url(#ptxt)" stroke="#8a4655" stroke-width="0.6" />
<rect x="321.0" y="593.6" width="15.8" height="27.9" rx="0" fill="url(#ptxt)" stroke="#8a4655" stroke-width="0.6" />
<rect x="338.0" y="593.6" width="16.0" height="27.9" rx="0" fill="url(#ptxt)" stroke="#8a4655" stroke-width="0.6" />
<rect x="361.6" y="583.0" width="14.0" height="16.5" rx="0" fill="#3f7a58" stroke="none" stroke-width="0" />
<rect x="366.0" y="588.0" width="8.0" height="10.0" rx="0" fill="#5f5a3a" stroke="none" stroke-width="0" />
<rect x="362.0" y="584.0" width="5.0" height="6.0" rx="0" fill="#44aa77" stroke="none" stroke-width="0" />
<rect x="389.8" y="505.6" width="63.4" height="1.0" rx="0" fill="#333" stroke="none" stroke-width="0" />
<rect x="453.0" y="505.1" width="18.5" height="2.2" rx="0" fill="#222" stroke="none" stroke-width="0" />
<rect x="389.8" y="509.8" width="47.8" height="11.3" rx="0" fill="#bdbdbd" stroke="none" stroke-width="0" />
<text x="390.5" y="515.2" font-family="Liberation Sans" font-size="5.6" font-weight="bold" fill="#222" text-anchor="start" textLength="46.0" lengthAdjust="spacingAndGlyphs" >Biometrics – a fad</text>
<text x="390.5" y="520.6" font-family="Liberation Sans" font-size="5.6" font-weight="bold" fill="#222" text-anchor="start" textLength="35.0" lengthAdjust="spacingAndGlyphs" >or the future?</text>
<rect x="389.8" y="522.0" width="54.2" height="10.4" rx="0" fill="url(#ptxt2)" stroke="#8a4655" stroke-width="0.6" />
<rect x="446.2" y="522.0" width="25.8" height="30.2" rx="0" fill="url(#ptxt)" stroke="#8a4655" stroke-width="0.6" />
<rect x="389.8" y="534.0" width="25.8" height="37.0" rx="0" fill="url(#ptxt)" stroke="#8a4655" stroke-width="0.6" />
<rect x="415.0" y="534.0" width="0.9" height="14.0" rx="0" fill="#444" stroke="none" stroke-width="0" />
<rect x="417.7" y="534.0" width="25.8" height="26.8" rx="0" fill="url(#ptxt)" stroke="#8a4655" stroke-width="0.6" />
<rect x="417.7" y="563.0" width="25.8" height="13.4" rx="0" fill="url(#ptxt)" stroke="#8a4655" stroke-width="0.6" />
<rect x="389.8" y="573.0" width="12.2" height="2.0" rx="0" fill="#555" stroke="none" stroke-width="0" />
<rect x="389.8" y="576.4" width="25.8" height="37.1" rx="0" fill="url(#ptxt)" stroke="#8a4655" stroke-width="0.6" />
<rect x="417.7" y="578.5" width="5.3" height="2.0" rx="0" fill="#333" stroke="none" stroke-width="0" />
<rect x="417.7" y="581.8" width="25.8" height="31.7" rx="0" fill="url(#ptxt)" stroke="#8a4655" stroke-width="0.6" />
<rect x="446.0" y="554.0" width="12.0" height="2.0" rx="0" fill="#444" stroke="none" stroke-width="0" />
<rect x="446.2" y="557.0" width="25.8" height="56.5" rx="0" fill="url(#ptxt)" stroke="#8a4655" stroke-width="0.6" />
<rect x="389.5" y="616.0" width="4.5" height="1.2" rx="0" fill="#888" stroke="none" stroke-width="0" />
<rect x="456.0" y="616.0" width="16.0" height="1.2" rx="0" fill="#888" stroke="none" stroke-width="0" />
<rect x="519.0" y="508.0" width="27.5" height="1.7" rx="0" fill="#555" stroke="none" stroke-width="0" />
<rect x="499.0" y="512.0" width="17.0" height="2.0" rx="0" fill="#333" stroke="none" stroke-width="0" />
<rect x="499.0" y="515.0" width="56.4" height="8.0" rx="0" fill="url(#ptxt)" stroke="#8a4655" stroke-width="0.6" />
<rect x="499.0" y="523.6" width="12.0" height="2.2" rx="0" fill="#333" stroke="none" stroke-width="0" />
<rect x="494.0" y="527.0" width="79.2" height="21.7" rx="0" fill="url(#ptxt)" stroke="#8a4655" stroke-width="0.6" />
<rect x="518.6" y="549.2" width="30.7" height="7.8" rx="0" fill="url(#gtxt)" stroke="#555" stroke-width="0.5" />
<rect x="494.0" y="557.6" width="78.7" height="13.9" rx="0" fill="url(#ptxt)" stroke="#8a4655" stroke-width="0.6" />
<rect x="518.6" y="572.0" width="29.0" height="4.5" rx="0" fill="url(#gtxt)" stroke="#555" stroke-width="0.5" />
<rect x="499.0" y="577.0" width="18.0" height="2.0" rx="0" fill="#333" stroke="none" stroke-width="0" />
<rect x="498.0" y="580.4" width="50.0" height="2.2" rx="0" fill="#e4c0c6" stroke="none" stroke-width="0" />
<rect x="494.0" y="583.0" width="78.7" height="26.4" rx="0" fill="url(#ltxt)" stroke="#7d5a84" stroke-width="0.8" />
<rect x="494.0" y="583.0" width="78.7" height="2.5" rx="0" fill="#a882ae" stroke="none" stroke-width="0" />
<rect x="524.0" y="583.0" width="0.8" height="26.4" rx="0" fill="#7d5a84" stroke="none" stroke-width="0" />
<rect x="537.0" y="583.0" width="0.8" height="26.4" rx="0" fill="#7d5a84" stroke="none" stroke-width="0" />
<rect x="494.0" y="596.0" width="78.7" height="0.7" rx="0" fill="#7d5a84" stroke="none" stroke-width="0" />
<rect x="594.8" y="506.5" width="82.7" height="0.8" rx="0" fill="#d8d8d8" stroke="none" stroke-width="0" />
<rect x="636.0" y="505.6" width="41.0" height="1.4" rx="0" fill="#999" stroke="none" stroke-width="0" />
<rect x="606.6" y="509.8" width="59.1" height="41.9" rx="0" fill="#dcdcae" stroke="none" stroke-width="0" />
<rect x="614.0" y="511.0" width="0.8" height="31.0" rx="0" fill="#777" stroke="none" stroke-width="0" />
<rect x="614.0" y="542.0" width="48.0" height="0.8" rx="0" fill="#777" stroke="none" stroke-width="0" />
<rect x="621.0" y="513.0" width="5.0" height="1.2" rx="0" fill="#7a7a62" stroke="none" stroke-width="0" />
<rect x="627.0" y="513.0" width="13.0" height="1.2" rx="0" fill="#7a7a62" stroke="none" stroke-width="0" />
<rect x="645.0" y="513.0" width="5.0" height="1.2" rx="0" fill="#7a7a62" stroke="none" stroke-width="0" />
<rect x="651.0" y="513.0" width="11.0" height="1.2" rx="0" fill="#7a7a62" stroke="none" stroke-width="0" />
<rect x="621.0" y="516.0" width="5.0" height="1.2" rx="0" fill="#7a7a62" stroke="none" stroke-width="0" />
<rect x="627.0" y="516.0" width="13.0" height="1.2" rx="0" fill="#7a7a62" stroke="none" stroke-width="0" />
<rect x="645.0" y="516.0" width="5.0" height="1.2" rx="0" fill="#7a7a62" stroke="none" stroke-width="0" />
<rect x="651.0" y="516.0" width="11.0" height="1.2" rx="0" fill="#7a7a62" stroke="none" stroke-width="0" />
<rect x="621.0" y="519.0" width="5.0" height="1.2" rx="0" fill="#7a7a62" stroke="none" stroke-width="0" />
<rect x="627.0" y="519.0" width="13.0" height="1.2" rx="0" fill="#7a7a62" stroke="none" stroke-width="0" />
<rect x="645.0" y="519.0" width="5.0" height="1.2" rx="0" fill="#7a7a62" stroke="none" stroke-width="0" />
<rect x="651.0" y="519.0" width="11.0" height="1.2" rx="0" fill="#7a7a62" stroke="none" stroke-width="0" />
<rect x="621.0" y="522.0" width="5.0" height="1.2" rx="0" fill="#7a7a62" stroke="none" stroke-width="0" />
<rect x="627.0" y="522.0" width="11.0" height="1.2" rx="0" fill="#7a7a62" stroke="none" stroke-width="0" />
<rect x="645.0" y="522.0" width="5.0" height="1.2" rx="0" fill="#7a7a62" stroke="none" stroke-width="0" />
<rect x="651.0" y="522.0" width="8.0" height="1.2" rx="0" fill="#7a7a62" stroke="none" stroke-width="0" />
<rect x="632.6" y="533.0" width="1.2" height="1.2" rx="0" fill="#6a6a50" stroke="none" stroke-width="0" />
<rect x="633.3" y="536.2" width="1.2" height="1.2" rx="0" fill="#555" stroke="none" stroke-width="0" />
<rect x="624.8" y="526.1" width="1.2" height="1.2" rx="0" fill="#555" stroke="none" stroke-width="0" />
<rect x="624.3" y="536.3" width="1.2" height="1.2" rx="0" fill="#333" stroke="none" stroke-width="0" />
<rect x="639.9" y="539.6" width="1.2" height="1.2" rx="0" fill="#555" stroke="none" stroke-width="0" />
<rect x="643.2" y="526.2" width="1.2" height="1.2" rx="0" fill="#6a6a50" stroke="none" stroke-width="0" />
<rect x="625.9" y="525.7" width="1.2" height="1.2" rx="0" fill="#6a6a50" stroke="none" stroke-width="0" />
<rect x="636.9" y="526.2" width="1.2" height="1.2" rx="0" fill="#333" stroke="none" stroke-width="0" />
<rect x="627.3" y="534.8" width="1.2" height="1.2" rx="0" fill="#6a6a50" stroke="none" stroke-width="0" />
<rect x="626.4" y="533.5" width="1.2" height="1.2" rx="0" fill="#333" stroke="none" stroke-width="0" />
<rect x="632.0" y="532.3" width="1.2" height="1.2" rx="0" fill="#6a6a50" stroke="none" stroke-width="0" />
<rect x="620.1" y="528.3" width="1.2" height="1.2" rx="0" fill="#555" stroke="none" stroke-width="0" />
<rect x="626.0" y="532.7" width="1.2" height="1.2" rx="0" fill="#555" stroke="none" stroke-width="0" />
<rect x="631.4" y="536.5" width="1.2" height="1.2" rx="0" fill="#6a6a50" stroke="none" stroke-width="0" />
<rect x="623.2" y="539.7" width="1.2" height="1.2" rx="0" fill="#555" stroke="none" stroke-width="0" />
<rect x="617.5" y="531.9" width="1.2" height="1.2" rx="0" fill="#6a6a50" stroke="none" stroke-width="0" />
<rect x="647.0" y="531.7" width="1.2" height="1.2" rx="0" fill="#555" stroke="none" stroke-width="0" />
<rect x="629.0" y="538.7" width="1.2" height="1.2" rx="0" fill="#333" stroke="none" stroke-width="0" />
<rect x="619.3" y="526.4" width="1.2" height="1.2" rx="0" fill="#6a6a50" stroke="none" stroke-width="0" />
<rect x="633.2" y="539.3" width="1.2" height="1.2" rx="0" fill="#333" stroke="none" stroke-width="0" />
<rect x="635.7" y="534.5" width="1.2" height="1.2" rx="0" fill="#555" stroke="none" stroke-width="0" />
<rect x="644.5" y="535.6" width="1.2" height="1.2" rx="0" fill="#333" stroke="none" stroke-width="0" />
<rect x="632.4" y="538.1" width="1.2" height="1.2" rx="0" fill="#555" stroke="none" stroke-width="0" />
<rect x="617.8" y="525.1" width="1.2" height="1.2" rx="0" fill="#555" stroke="none" stroke-width="0" />
<rect x="638.1" y="531.1" width="1.2" height="1.2" rx="0" fill="#6a6a50" stroke="none" stroke-width="0" />
<rect x="621.4" y="530.2" width="1.2" height="1.2" rx="0" fill="#555" stroke="none" stroke-width="0" />
<rect x="620.7" y="530.0" width="1.2" height="1.2" rx="0" fill="#555" stroke="none" stroke-width="0" />
<rect x="640.3" y="537.6" width="1.2" height="1.2" rx="0" fill="#333" stroke="none" stroke-width="0" />
<rect x="646.1" y="527.9" width="1.2" height="1.2" rx="0" fill="#333" stroke="none" stroke-width="0" />
<rect x="644.9" y="529.3" width="1.2" height="1.2" rx="0" fill="#555" stroke="none" stroke-width="0" />
<rect x="619.0" y="530.9" width="1.2" height="1.2" rx="0" fill="#6a6a50" stroke="none" stroke-width="0" />
<rect x="619.4" y="538.9" width="1.2" height="1.2" rx="0" fill="#555" stroke="none" stroke-width="0" />
<rect x="643.5" y="529.2" width="1.2" height="1.2" rx="0" fill="#333" stroke="none" stroke-width="0" />
<rect x="642.9" y="529.3" width="1.2" height="1.2" rx="0" fill="#333" stroke="none" stroke-width="0" />
<rect x="624.7" y="529.0" width="1.2" height="1.2" rx="0" fill="#6a6a50" stroke="none" stroke-width="0" />
<rect x="626.8" y="536.6" width="1.2" height="1.2" rx="0" fill="#555" stroke="none" stroke-width="0" />
<rect x="644.4" y="537.2" width="1.2" height="1.2" rx="0" fill="#6a6a50" stroke="none" stroke-width="0" />
<rect x="629.4" y="538.1" width="1.2" height="1.2" rx="0" fill="#6a6a50" stroke="none" stroke-width="0" />
<rect x="634.0" y="535.8" width="1.2" height="1.2" rx="0" fill="#333" stroke="none" stroke-width="0" />
<rect x="645.9" y="531.2" width="1.2" height="1.2" rx="0" fill="#6a6a50" stroke="none" stroke-width="0" />
<rect x="640.3" y="534.7" width="1.2" height="1.2" rx="0" fill="#555" stroke="none" stroke-width="0" />
<rect x="632.1" y="538.7" width="1.2" height="1.2" rx="0" fill="#6a6a50" stroke="none" stroke-width="0" />
<rect x="620.9" y="532.1" width="1.2" height="1.2" rx="0" fill="#555" stroke="none" stroke-width="0" />
<rect x="625.7" y="528.8" width="1.2" height="1.2" rx="0" fill="#6a6a50" stroke="none" stroke-width="0" />
<rect x="647.3" y="528.9" width="1.2" height="1.2" rx="0" fill="#6a6a50" stroke="none" stroke-width="0" />
<rect x="626.0" y="543.0" width="0.6" height="3.0" rx="0" fill="#666" stroke="none" stroke-width="0" />
<rect x="633.0" y="543.0" width="0.6" height="3.0" rx="0" fill="#666" stroke="none" stroke-width="0" />
<rect x="640.0" y="543.0" width="0.6" height="3.0" rx="0" fill="#666" stroke="none" stroke-width="0" />
<rect x="647.0" y="543.0" width="0.6" height="3.0" rx="0" fill="#666" stroke="none" stroke-width="0" />
<rect x="654.0" y="543.0" width="0.6" height="3.0" rx="0" fill="#666" stroke="none" stroke-width="0" />
<rect x="661.0" y="543.0" width="0.6" height="3.0" rx="0" fill="#666" stroke="none" stroke-width="0" />
<rect x="630.0" y="547.5" width="10.0" height="1.2" rx="0" fill="#555" stroke="none" stroke-width="0" />
<rect x="606.6" y="552.2" width="58.6" height="12.4" rx="0" fill="#8e9ac3" stroke="none" stroke-width="0" />
<rect x="608.0" y="553.8" width="56.0" height="1.1" rx="0" fill="#66729e" stroke="none" stroke-width="0" />
<rect x="608.0" y="556.6" width="56.0" height="1.1" rx="0" fill="#66729e" stroke="none" stroke-width="0" />
<rect x="608.0" y="559.4" width="56.0" height="1.1" rx="0" fill="#66729e" stroke="none" stroke-width="0" />
<rect x="608.0" y="562.2" width="56.0" height="1.1" rx="0" fill="#66729e" stroke="none" stroke-width="0" />
<rect x="594.8" y="569.0" width="39.8" height="41.8" rx="0" fill="url(#ptxt)" stroke="#8a4655" stroke-width="0.6" />
<rect x="637.8" y="569.0" width="40.2" height="47.0" rx="0" fill="url(#ptxt)" stroke="#8a4655" stroke-width="0.6" />
<rect x="596.0" y="612.5" width="38.0" height="1.0" rx="0" fill="#bbb" stroke="none" stroke-width="0" />
<defs><linearGradient id="slg" x1="0" y1="0" x2="0" y2="1"><stop offset="0" stop-color="#d3d9ad"/><stop offset="0.09" stop-color="#d7dcb3"/><stop offset="0.12" stop-color="#f3f0dd"/><stop offset="0.35" stop-color="#eef0e0"/><stop offset="0.45" stop-color="#dde9d8"/><stop offset="1" stop-color="#d7ebe8"/></linearGradient></defs>
<rect x="688.0" y="501.0" width="146.6" height="120.8" rx="0" fill="url(#slg)" stroke="none" stroke-width="0" />
<rect x="690.0" y="503.0" width="17.0" height="7.0" rx="0" fill="#e5e8c8" stroke="none" stroke-width="0" />
<rect x="711.0" y="503.0" width="13.0" height="7.0" rx="0" fill="#e5e8c8" stroke="none" stroke-width="0" />
<path d="M688,545 Q720,530 760,548 T834,545 L834,560 L688,560Z" fill="#cfdcc4" opacity="0.6"/>
<rect x="700.5" y="519.0" width="7.5" height="5.5" rx="0" fill="#c5c6bd" stroke="none" stroke-width="0" />
<rect x="712.0" y="518.3" width="115.0" height="46.1" rx="0" fill="url(#stxt)" stroke="#8e6e64" stroke-width="0.8" />
<rect x="729.0" y="569.0" width="64.3" height="37.6" rx="0" fill="#c8d5a7" stroke="#8d9a78" stroke-width="0.6" />
<rect x="732.0" y="576.0" width="58.0" height="0.7" rx="0" fill="#55604a" stroke="none" stroke-width="0" />
<rect x="732.0" y="598.0" width="58.0" height="0.7" rx="0" fill="#55604a" stroke="none" stroke-width="0" />
<rect x="746.0" y="576.0" width="1.2" height="23.0" rx="0" fill="#55604a" stroke="none" stroke-width="0" />
<rect x="776.0" y="576.0" width="1.2" height="23.0" rx="0" fill="#55604a" stroke="none" stroke-width="0" />
<rect x="749.0" y="588.0" width="9.0" height="0.8" rx="0" fill="#55604a" stroke="none" stroke-width="0" />
<rect x="756.5" y="586.5" width="2.0" height="4.0" rx="0" fill="#55604a" stroke="none" stroke-width="0" />
<text x="738" y="575.6" font-family="Liberation Sans" font-size="7.5" fill="#4d5840" text-anchor="middle">×</text>
<text x="746" y="575.6" font-family="Liberation Sans" font-size="7.5" fill="#4d5840" text-anchor="middle">×</text>
<text x="760" y="575.6" font-family="Liberation Sans" font-size="7.5" fill="#4d5840" text-anchor="middle">×</text>
<text x="772" y="575.6" font-family="Liberation Sans" font-size="7.5" fill="#4d5840" text-anchor="middle">×</text>
<text x="784" y="575.6" font-family="Liberation Sans" font-size="7.5" fill="#4d5840" text-anchor="middle">×</text>
<text x="738" y="585.6" font-family="Liberation Sans" font-size="7.5" fill="#4d5840" text-anchor="middle">×</text>
<text x="752" y="585.6" font-family="Liberation Sans" font-size="7.5" fill="#4d5840" text-anchor="middle">×</text>
<text x="764" y="585.6" font-family="Liberation Sans" font-size="7.5" fill="#4d5840" text-anchor="middle">×</text>
<text x="776" y="585.6" font-family="Liberation Sans" font-size="7.5" fill="#4d5840" text-anchor="middle">×</text>
<text x="784" y="585.6" font-family="Liberation Sans" font-size="7.5" fill="#4d5840" text-anchor="middle">×</text>
<text x="738" y="595.6" font-family="Liberation Sans" font-size="7.5" fill="#4d5840" text-anchor="middle">×</text>
<text x="752" y="595.6" font-family="Liberation Sans" font-size="7.5" fill="#4d5840" text-anchor="middle">×</text>
<text x="764" y="595.6" font-family="Liberation Sans" font-size="7.5" fill="#4d5840" text-anchor="middle">×</text>
<text x="784" y="595.6" font-family="Liberation Sans" font-size="7.5" fill="#4d5840" text-anchor="middle">×</text>
<text x="738" y="605.6" font-family="Liberation Sans" font-size="7.5" fill="#4d5840" text-anchor="middle">×</text>
<text x="752" y="605.6" font-family="Liberation Sans" font-size="7.5" fill="#4d5840" text-anchor="middle">×</text>
<text x="764" y="605.6" font-family="Liberation Sans" font-size="7.5" fill="#4d5840" text-anchor="middle">×</text>
<text x="776" y="605.6" font-family="Liberation Sans" font-size="7.5" fill="#4d5840" text-anchor="middle">×</text>
<text x="784" y="605.6" font-family="Liberation Sans" font-size="7.5" fill="#4d5840" text-anchor="middle">×</text>
<rect x="688.0" y="617.6" width="102.0" height="2.4" rx="0" fill="#4d5550" stroke="none" stroke-width="0" />
<rect x="790.0" y="617.6" width="30.0" height="2.4" rx="0" fill="#6cc3bb" stroke="none" stroke-width="0" />
<rect x="820.0" y="617.6" width="14.6" height="2.4" rx="0" fill="#3c6ec4" stroke="none" stroke-width="0" />
<rect x="193.0" y="638.5" width="79.0" height="36.9" rx="0" fill="#fad4d0" stroke="none" stroke-width="0" />
<rect x="193.0" y="675.4" width="20.0" height="24.4" rx="0" fill="#fad4d0" stroke="none" stroke-width="0" />
<rect x="193.0" y="699.8" width="20.0" height="7.7" rx="0" fill="#b0f0ea" stroke="none" stroke-width="0" />
<rect x="193.0" y="707.5" width="20.0" height="26.3" rx="0" fill="#fad4d0" stroke="none" stroke-width="0" />
<rect x="215.0" y="678.6" width="55.0" height="12.4" rx="0" fill="#b2dada" stroke="none" stroke-width="0" />
<rect x="216.5" y="680.1" width="4.5" height="1.1" rx="0" fill="#4a6a6a" stroke="none" stroke-width="0" />
<rect x="215.0" y="691.0" width="55.0" height="6.0" rx="0" fill="#b2dada" stroke="none" stroke-width="0" />
<rect x="215.0" y="691.0" width="55.0" height="0.8" rx="0" fill="#7fa9a9" stroke="none" stroke-width="0" />
<rect x="216.5" y="692.5" width="4.5" height="1.1" rx="0" fill="#4a6a6a" stroke="none" stroke-width="0" />
<rect x="215.0" y="697.5" width="55.0" height="13.5" rx="0" fill="#b2dada" stroke="none" stroke-width="0" />
<rect x="215.0" y="697.5" width="55.0" height="0.8" rx="0" fill="#7fa9a9" stroke="none" stroke-width="0" />
<rect x="216.5" y="699.0" width="4.5" height="1.1" rx="0" fill="#4a6a6a" stroke="none" stroke-width="0" />
<rect x="215.0" y="711.0" width="55.0" height="11.0" rx="0" fill="#b2dada" stroke="none" stroke-width="0" />
<rect x="215.0" y="711.0" width="55.0" height="0.8" rx="0" fill="#7fa9a9" stroke="none" stroke-width="0" />
<rect x="216.5" y="712.5" width="4.5" height="1.1" rx="0" fill="#4a6a6a" stroke="none" stroke-width="0" />
<rect x="215.0" y="722.0" width="55.0" height="12.4" rx="0" fill="#b2dada" stroke="none" stroke-width="0" />
<rect x="215.0" y="722.0" width="55.0" height="0.8" rx="0" fill="#7fa9a9" stroke="none" stroke-width="0" />
<rect x="216.5" y="723.5" width="4.5" height="1.1" rx="0" fill="#4a6a6a" stroke="none" stroke-width="0" />
<rect x="220.0" y="676.5" width="16.0" height="1.9" rx="0" fill="#b0f0ea" stroke="none" stroke-width="0" />
<rect x="200.0" y="737.5" width="45.0" height="1.5" rx="0" fill="#c8c8dd" stroke="none" stroke-width="0" />
<rect x="194.0" y="639.0" width="5.0" height="1.0" rx="0" fill="#555" stroke="none" stroke-width="0" />
<rect x="194.0" y="676.0" width="5.0" height="1.0" rx="0" fill="#555" stroke="none" stroke-width="0" />
<rect x="194.0" y="708.0" width="5.0" height="1.0" rx="0" fill="#555" stroke="none" stroke-width="0" />
<rect x="287.0" y="637.0" width="65.0" height="5.0" rx="0" fill="#d9d9d9" stroke="none" stroke-width="0" />
<rect x="288.0" y="638.0" width="9.0" height="1.2" rx="0" fill="#666" stroke="none" stroke-width="0" />
<rect x="287.0" y="644.5" width="14.0" height="19.5" rx="0" fill="#e8f2de" stroke="none" stroke-width="0" />
<rect x="288.0" y="645.5" width="4.0" height="1.1" rx="0" fill="#555" stroke="none" stroke-width="0" />
<rect x="286.0" y="665.5" width="15.0" height="21.0" rx="0" fill="#b2dada" stroke="none" stroke-width="0" />
<rect x="286.0" y="665.5" width="15.0" height="0.8" rx="0" fill="#7fa9a9" stroke="none" stroke-width="0" />
<rect x="287.5" y="667.0" width="4.5" height="1.1" rx="0" fill="#4a6a6a" stroke="none" stroke-width="0" />
<rect x="287.2" y="667.5" width="4.2" height="1.1" rx="0" fill="#3f5f5f" stroke="none" stroke-width="0" />
<rect x="292.4" y="667.5" width="2.8" height="1.1" rx="0" fill="#3f5f5f" stroke="none" stroke-width="0" />
<rect x="287.2" y="671.0" width="6.2" height="1.1" rx="0" fill="#3f5f5f" stroke="none" stroke-width="0" />
<rect x="294.4" y="671.0" width="2.3" height="1.1" rx="0" fill="#3f5f5f" stroke="none" stroke-width="0" />
<rect x="287.2" y="676.3" width="5.8" height="1.1" rx="0" fill="#3f5f5f" stroke="none" stroke-width="0" />
<rect x="294.0" y="676.3" width="1.8" height="1.1" rx="0" fill="#3f5f5f" stroke="none" stroke-width="0" />
<rect x="287.2" y="681.5" width="5.1" height="1.1" rx="0" fill="#3f5f5f" stroke="none" stroke-width="0" />
<rect x="302.5" y="644.5" width="15.5" height="41.5" rx="0" fill="#b2dada" stroke="none" stroke-width="0" />
<rect x="302.5" y="644.5" width="15.5" height="0.8" rx="0" fill="#7fa9a9" stroke="none" stroke-width="0" />
<rect x="304.0" y="646.0" width="4.5" height="1.1" rx="0" fill="#4a6a6a" stroke="none" stroke-width="0" />
<rect x="303.7" y="646.5" width="3.9" height="1.1" rx="0" fill="#3f5f5f" stroke="none" stroke-width="0" />
<rect x="303.7" y="651.4" width="4.8" height="1.1" rx="0" fill="#3f5f5f" stroke="none" stroke-width="0" />
<rect x="303.7" y="655.9" width="3.1" height="1.1" rx="0" fill="#3f5f5f" stroke="none" stroke-width="0" />
<rect x="303.7" y="661.0" width="6.7" height="1.1" rx="0" fill="#3f5f5f" stroke="none" stroke-width="0" />
<rect x="311.4" y="661.0" width="1.6" height="1.1" rx="0" fill="#3f5f5f" stroke="none" stroke-width="0" />
<rect x="303.7" y="667.4" width="5.5" height="1.1" rx="0" fill="#3f5f5f" stroke="none" stroke-width="0" />
<rect x="303.7" y="672.4" width="6.4" height="1.1" rx="0" fill="#3f5f5f" stroke="none" stroke-width="0" />
<rect x="303.7" y="678.9" width="7.2" height="1.1" rx="0" fill="#3f5f5f" stroke="none" stroke-width="0" />
<rect x="311.9" y="678.9" width="3.5" height="1.1" rx="0" fill="#3f5f5f" stroke="none" stroke-width="0" />
<rect x="303.7" y="684.0" width="6.2" height="1.1" rx="0" fill="#3f5f5f" stroke="none" stroke-width="0" />
<rect x="310.9" y="684.0" width="1.7" height="1.1" rx="0" fill="#3f5f5f" stroke="none" stroke-width="0" />
<rect x="319.0" y="644.5" width="16.0" height="41.5" rx="0" fill="#b2dada" stroke="none" stroke-width="0" />
<rect x="319.0" y="644.5" width="16.0" height="0.8" rx="0" fill="#7fa9a9" stroke="none" stroke-width="0" />
<rect x="320.5" y="646.0" width="4.5" height="1.1" rx="0" fill="#4a6a6a" stroke="none" stroke-width="0" />
<rect x="320.2" y="646.5" width="7.8" height="1.1" rx="0" fill="#3f5f5f" stroke="none" stroke-width="0" />
<rect x="329.0" y="646.5" width="2.1" height="1.1" rx="0" fill="#3f5f5f" stroke="none" stroke-width="0" />
<rect x="320.2" y="653.4" width="7.0" height="1.1" rx="0" fill="#3f5f5f" stroke="none" stroke-width="0" />
<rect x="320.2" y="659.4" width="3.4" height="1.1" rx="0" fill="#3f5f5f" stroke="none" stroke-width="0" />
<rect x="320.2" y="667.0" width="5.6" height="1.1" rx="0" fill="#3f5f5f" stroke="none" stroke-width="0" />
<rect x="326.8" y="667.0" width="2.1" height="1.1" rx="0" fill="#3f5f5f" stroke="none" stroke-width="0" />
<rect x="320.2" y="674.0" width="4.1" height="1.1" rx="0" fill="#3f5f5f" stroke="none" stroke-width="0" />
<rect x="325.3" y="674.0" width="3.7" height="1.1" rx="0" fill="#3f5f5f" stroke="none" stroke-width="0" />
<rect x="320.2" y="678.6" width="7.1" height="1.1" rx="0" fill="#3f5f5f" stroke="none" stroke-width="0" />
<rect x="336.0" y="644.5" width="16.0" height="41.5" rx="0" fill="#b2dada" stroke="none" stroke-width="0" />
<rect x="336.0" y="644.5" width="16.0" height="0.8" rx="0" fill="#7fa9a9" stroke="none" stroke-width="0" />
<rect x="337.5" y="646.0" width="4.5" height="1.1" rx="0" fill="#4a6a6a" stroke="none" stroke-width="0" />
<rect x="337.2" y="646.5" width="7.5" height="1.1" rx="0" fill="#3f5f5f" stroke="none" stroke-width="0" />
<rect x="345.7" y="646.5" width="3.1" height="1.1" rx="0" fill="#3f5f5f" stroke="none" stroke-width="0" />
<rect x="337.2" y="651.1" width="3.6" height="1.1" rx="0" fill="#3f5f5f" stroke="none" stroke-width="0" />
<rect x="337.2" y="655.8" width="6.6" height="1.1" rx="0" fill="#3f5f5f" stroke="none" stroke-width="0" />
<rect x="337.2" y="662.7" width="5.6" height="1.1" rx="0" fill="#3f5f5f" stroke="none" stroke-width="0" />
<rect x="343.8" y="662.7" width="3.1" height="1.1" rx="0" fill="#3f5f5f" stroke="none" stroke-width="0" />
<rect x="337.2" y="667.7" width="4.5" height="1.1" rx="0" fill="#3f5f5f" stroke="none" stroke-width="0" />
<rect x="337.2" y="673.0" width="4.3" height="1.1" rx="0" fill="#3f5f5f" stroke="none" stroke-width="0" />
<rect x="337.2" y="677.5" width="5.7" height="1.1" rx="0" fill="#3f5f5f" stroke="none" stroke-width="0" />
<rect x="337.2" y="683.2" width="4.6" height="1.1" rx="0" fill="#3f5f5f" stroke="none" stroke-width="0" />
<rect x="353.6" y="637.0" width="15.0" height="43.0" rx="0" fill="#b2dada" stroke="none" stroke-width="0" />
<rect x="355.1" y="638.5" width="4.5" height="1.1" rx="0" fill="#4a6a6a" stroke="none" stroke-width="0" />
<rect x="354.8" y="638.5" width="5.6" height="1.1" rx="0" fill="#3f5f5f" stroke="none" stroke-width="0" />
<rect x="353.6" y="637.1" width="15.0" height="0.6" rx="0" fill="#86b0b0" stroke="none" stroke-width="0" />
<rect x="354.8" y="642.1" width="5.1" height="1.1" rx="0" fill="#3f5f5f" stroke="none" stroke-width="0" />
<rect x="353.6" y="640.7" width="15.0" height="0.6" rx="0" fill="#86b0b0" stroke="none" stroke-width="0" />
<rect x="354.8" y="645.8" width="4.0" height="1.1" rx="0" fill="#3f5f5f" stroke="none" stroke-width="0" />
<rect x="353.6" y="644.4" width="15.0" height="0.6" rx="0" fill="#86b0b0" stroke="none" stroke-width="0" />
<rect x="354.8" y="651.2" width="3.4" height="1.1" rx="0" fill="#3f5f5f" stroke="none" stroke-width="0" />
<rect x="359.2" y="651.2" width="2.1" height="1.1" rx="0" fill="#3f5f5f" stroke="none" stroke-width="0" />
<rect x="353.6" y="649.8" width="15.0" height="0.6" rx="0" fill="#86b0b0" stroke="none" stroke-width="0" />
<rect x="354.8" y="655.8" width="5.5" height="1.1" rx="0" fill="#3f5f5f" stroke="none" stroke-width="0" />
<rect x="353.6" y="654.4" width="15.0" height="0.6" rx="0" fill="#86b0b0" stroke="none" stroke-width="0" />
<rect x="354.8" y="661.5" width="4.8" height="1.1" rx="0" fill="#3f5f5f" stroke="none" stroke-width="0" />
<rect x="360.6" y="661.5" width="0.8" height="1.1" rx="0" fill="#3f5f5f" stroke="none" stroke-width="0" />
<rect x="353.6" y="660.1" width="15.0" height="0.6" rx="0" fill="#86b0b0" stroke="none" stroke-width="0" />
<rect x="354.8" y="665.8" width="7.2" height="1.1" rx="0" fill="#3f5f5f" stroke="none" stroke-width="0" />
<rect x="363.0" y="665.8" width="2.3" height="1.1" rx="0" fill="#3f5f5f" stroke="none" stroke-width="0" />
<rect x="353.6" y="664.4" width="15.0" height="0.6" rx="0" fill="#86b0b0" stroke="none" stroke-width="0" />
<rect x="354.8" y="669.9" width="6.8" height="1.1" rx="0" fill="#3f5f5f" stroke="none" stroke-width="0" />
<rect x="362.6" y="669.9" width="2.2" height="1.1" rx="0" fill="#3f5f5f" stroke="none" stroke-width="0" />
<rect x="353.6" y="668.5" width="15.0" height="0.6" rx="0" fill="#86b0b0" stroke="none" stroke-width="0" />
<rect x="354.8" y="674.2" width="7.4" height="1.1" rx="0" fill="#3f5f5f" stroke="none" stroke-width="0" />
<rect x="363.2" y="674.2" width="2.7" height="1.1" rx="0" fill="#3f5f5f" stroke="none" stroke-width="0" />
<rect x="353.6" y="672.8" width="15.0" height="0.6" rx="0" fill="#86b0b0" stroke="none" stroke-width="0" />
<rect x="373.0" y="639.0" width="4.7" height="38.0" rx="0" fill="#dedede" stroke="none" stroke-width="0" />
<rect x="372.0" y="640.0" width="5.0" height="1.0" rx="0" fill="#555" stroke="none" stroke-width="0" />
<rect x="372.0" y="656.0" width="4.0" height="1.0" rx="0" fill="#555" stroke="none" stroke-width="0" />
<rect x="353.6" y="680.0" width="25.4" height="63.4" rx="0" fill="#b2dada" stroke="none" stroke-width="0" />
<rect x="353.6" y="680.0" width="25.4" height="0.8" rx="0" fill="#7fa9a9" stroke="none" stroke-width="0" />
<rect x="355.1" y="681.5" width="4.5" height="1.1" rx="0" fill="#4a6a6a" stroke="none" stroke-width="0" />
<rect x="354.8" y="681.5" width="7.5" height="1.1" rx="0" fill="#3f5f5f" stroke="none" stroke-width="0" />
<rect x="363.3" y="681.5" width="3.5" height="1.1" rx="0" fill="#3f5f5f" stroke="none" stroke-width="0" />
<rect x="353.6" y="680.1" width="25.4" height="0.6" rx="0" fill="#86b0b0" stroke="none" stroke-width="0" />
<rect x="354.8" y="685.5" width="6.0" height="1.1" rx="0" fill="#3f5f5f" stroke="none" stroke-width="0" />
<rect x="353.6" y="684.1" width="25.4" height="0.6" rx="0" fill="#86b0b0" stroke="none" stroke-width="0" />
<rect x="354.8" y="689.6" width="3.1" height="1.1" rx="0" fill="#3f5f5f" stroke="none" stroke-width="0" />
<rect x="353.6" y="688.2" width="25.4" height="0.6" rx="0" fill="#86b0b0" stroke="none" stroke-width="0" />
<rect x="354.8" y="694.8" width="6.5" height="1.1" rx="0" fill="#3f5f5f" stroke="none" stroke-width="0" />
<rect x="362.3" y="694.8" width="2.1" height="1.1" rx="0" fill="#3f5f5f" stroke="none" stroke-width="0" />
<rect x="353.6" y="693.4" width="25.4" height="0.6" rx="0" fill="#86b0b0" stroke="none" stroke-width="0" />
<rect x="354.8" y="701.0" width="4.6" height="1.1" rx="0" fill="#3f5f5f" stroke="none" stroke-width="0" />
<rect x="360.4" y="701.0" width="1.0" height="1.1" rx="0" fill="#3f5f5f" stroke="none" stroke-width="0" />
<rect x="353.6" y="699.6" width="25.4" height="0.6" rx="0" fill="#86b0b0" stroke="none" stroke-width="0" />
<rect x="354.8" y="705.4" width="4.0" height="1.1" rx="0" fill="#3f5f5f" stroke="none" stroke-width="0" />
<rect x="353.6" y="704.0" width="25.4" height="0.6" rx="0" fill="#86b0b0" stroke="none" stroke-width="0" />
<rect x="354.8" y="711.0" width="5.3" height="1.1" rx="0" fill="#3f5f5f" stroke="none" stroke-width="0" />
<rect x="361.1" y="711.0" width="3.0" height="1.1" rx="0" fill="#3f5f5f" stroke="none" stroke-width="0" />
<rect x="353.6" y="709.6" width="25.4" height="0.6" rx="0" fill="#86b0b0" stroke="none" stroke-width="0" />
<rect x="354.8" y="717.6" width="7.9" height="1.1" rx="0" fill="#3f5f5f" stroke="none" stroke-width="0" />
<rect x="363.7" y="717.6" width="1.1" height="1.1" rx="0" fill="#3f5f5f" stroke="none" stroke-width="0" />
<rect x="353.6" y="716.2" width="25.4" height="0.6" rx="0" fill="#86b0b0" stroke="none" stroke-width="0" />
<rect x="354.8" y="721.7" width="3.4" height="1.1" rx="0" fill="#3f5f5f" stroke="none" stroke-width="0" />
<rect x="359.2" y="721.7" width="3.5" height="1.1" rx="0" fill="#3f5f5f" stroke="none" stroke-width="0" />
<rect x="353.6" y="720.3" width="25.4" height="0.6" rx="0" fill="#86b0b0" stroke="none" stroke-width="0" />
<rect x="354.8" y="727.4" width="6.8" height="1.1" rx="0" fill="#3f5f5f" stroke="none" stroke-width="0" />
<rect x="362.6" y="727.4" width="3.1" height="1.1" rx="0" fill="#3f5f5f" stroke="none" stroke-width="0" />
<rect x="353.6" y="726.0" width="25.4" height="0.6" rx="0" fill="#86b0b0" stroke="none" stroke-width="0" />
<rect x="354.8" y="732.3" width="7.0" height="1.1" rx="0" fill="#3f5f5f" stroke="none" stroke-width="0" />
<rect x="362.8" y="732.3" width="2.9" height="1.1" rx="0" fill="#3f5f5f" stroke="none" stroke-width="0" />
<rect x="353.6" y="730.9" width="25.4" height="0.6" rx="0" fill="#86b0b0" stroke="none" stroke-width="0" />
<rect x="354.8" y="736.8" width="5.7" height="1.1" rx="0" fill="#3f5f5f" stroke="none" stroke-width="0" />
<rect x="361.5" y="736.8" width="1.8" height="1.1" rx="0" fill="#3f5f5f" stroke="none" stroke-width="0" />
<rect x="353.6" y="735.4" width="25.4" height="0.6" rx="0" fill="#86b0b0" stroke="none" stroke-width="0" />
<rect x="287.0" y="689.0" width="29.0" height="2.3" rx="0" fill="#d9d9d9" stroke="none" stroke-width="0" />
<rect x="320.0" y="689.0" width="30.0" height="2.3" rx="0" fill="#d9d9d9" stroke="none" stroke-width="0" />
<rect x="288.0" y="689.5" width="7.0" height="1.1" rx="0" fill="#555" stroke="none" stroke-width="0" />
<rect x="321.0" y="689.5" width="7.0" height="1.1" rx="0" fill="#555" stroke="none" stroke-width="0" />
<rect x="286.0" y="694.0" width="15.0" height="49.4" rx="0" fill="#b2dada" stroke="none" stroke-width="0" />
<rect x="286.0" y="694.0" width="15.0" height="0.8" rx="0" fill="#7fa9a9" stroke="none" stroke-width="0" />
<rect x="287.5" y="695.5" width="4.5" height="1.1" rx="0" fill="#4a6a6a" stroke="none" stroke-width="0" />
<rect x="287.2" y="695.5" width="5.4" height="1.1" rx="0" fill="#3f5f5f" stroke="none" stroke-width="0" />
<rect x="286.0" y="694.1" width="15.0" height="0.6" rx="0" fill="#86b0b0" stroke="none" stroke-width="0" />
<rect x="287.2" y="699.3" width="6.1" height="1.1" rx="0" fill="#3f5f5f" stroke="none" stroke-width="0" />
<rect x="294.3" y="699.3" width="1.9" height="1.1" rx="0" fill="#3f5f5f" stroke="none" stroke-width="0" />
<rect x="286.0" y="697.9" width="15.0" height="0.6" rx="0" fill="#86b0b0" stroke="none" stroke-width="0" />
<rect x="287.2" y="703.7" width="7.0" height="1.1" rx="0" fill="#3f5f5f" stroke="none" stroke-width="0" />
<rect x="295.2" y="703.7" width="1.4" height="1.1" rx="0" fill="#3f5f5f" stroke="none" stroke-width="0" />
<rect x="286.0" y="702.3" width="15.0" height="0.6" rx="0" fill="#86b0b0" stroke="none" stroke-width="0" />
<rect x="287.2" y="707.0" width="6.0" height="1.1" rx="0" fill="#3f5f5f" stroke="none" stroke-width="0" />
<rect x="294.2" y="707.0" width="1.8" height="1.1" rx="0" fill="#3f5f5f" stroke="none" stroke-width="0" />
<rect x="286.0" y="705.6" width="15.0" height="0.6" rx="0" fill="#86b0b0" stroke="none" stroke-width="0" />
<rect x="287.2" y="712.8" width="3.2" height="1.1" rx="0" fill="#3f5f5f" stroke="none" stroke-width="0" />
<rect x="286.0" y="711.4" width="15.0" height="0.6" rx="0" fill="#86b0b0" stroke="none" stroke-width="0" />
<rect x="287.2" y="717.8" width="7.6" height="1.1" rx="0" fill="#3f5f5f" stroke="none" stroke-width="0" />
<rect x="295.8" y="717.8" width="3.0" height="1.1" rx="0" fill="#3f5f5f" stroke="none" stroke-width="0" />
<rect x="286.0" y="716.4" width="15.0" height="0.6" rx="0" fill="#86b0b0" stroke="none" stroke-width="0" />
<rect x="287.2" y="722.5" width="7.0" height="1.1" rx="0" fill="#3f5f5f" stroke="none" stroke-width="0" />
<rect x="286.0" y="721.1" width="15.0" height="0.6" rx="0" fill="#86b0b0" stroke="none" stroke-width="0" />
<rect x="287.2" y="725.9" width="7.1" height="1.1" rx="0" fill="#3f5f5f" stroke="none" stroke-width="0" />
<rect x="295.3" y="725.9" width="2.9" height="1.1" rx="0" fill="#3f5f5f" stroke="none" stroke-width="0" />
<rect x="286.0" y="724.5" width="15.0" height="0.6" rx="0" fill="#86b0b0" stroke="none" stroke-width="0" />
<rect x="287.2" y="730.3" width="6.9" height="1.1" rx="0" fill="#3f5f5f" stroke="none" stroke-width="0" />
<rect x="286.0" y="728.9" width="15.0" height="0.6" rx="0" fill="#86b0b0" stroke="none" stroke-width="0" />
<rect x="287.2" y="735.9" width="7.1" height="1.1" rx="0" fill="#3f5f5f" stroke="none" stroke-width="0" />
<rect x="295.3" y="735.9" width="2.3" height="1.1" rx="0" fill="#3f5f5f" stroke="none" stroke-width="0" />
<rect x="286.0" y="734.5" width="15.0" height="0.6" rx="0" fill="#86b0b0" stroke="none" stroke-width="0" />
<rect x="287.2" y="739.1" width="7.7" height="1.1" rx="0" fill="#3f5f5f" stroke="none" stroke-width="0" />
<rect x="295.9" y="739.1" width="2.9" height="1.1" rx="0" fill="#3f5f5f" stroke="none" stroke-width="0" />
<rect x="286.0" y="737.7" width="15.0" height="0.6" rx="0" fill="#86b0b0" stroke="none" stroke-width="0" />
<rect x="302.5" y="693.0" width="15.5" height="50.4" rx="0" fill="#b2dada" stroke="none" stroke-width="0" />
<rect x="302.5" y="693.0" width="15.5" height="0.8" rx="0" fill="#7fa9a9" stroke="none" stroke-width="0" />
<rect x="304.0" y="694.5" width="4.5" height="1.1" rx="0" fill="#4a6a6a" stroke="none" stroke-width="0" />
<rect x="303.7" y="694.5" width="4.2" height="1.1" rx="0" fill="#3f5f5f" stroke="none" stroke-width="0" />
<rect x="302.5" y="693.1" width="15.5" height="0.6" rx="0" fill="#86b0b0" stroke="none" stroke-width="0" />
<rect x="303.7" y="699.9" width="6.9" height="1.1" rx="0" fill="#3f5f5f" stroke="none" stroke-width="0" />
<rect x="302.5" y="698.5" width="15.5" height="0.6" rx="0" fill="#86b0b0" stroke="none" stroke-width="0" />
<rect x="303.7" y="705.4" width="5.0" height="1.1" rx="0" fill="#3f5f5f" stroke="none" stroke-width="0" />
<rect x="309.7" y="705.4" width="2.0" height="1.1" rx="0" fill="#3f5f5f" stroke="none" stroke-width="0" />
<rect x="302.5" y="704.0" width="15.5" height="0.6" rx="0" fill="#86b0b0" stroke="none" stroke-width="0" />
<rect x="303.7" y="711.4" width="5.4" height="1.1" rx="0" fill="#3f5f5f" stroke="none" stroke-width="0" />
<rect x="302.5" y="710.0" width="15.5" height="0.6" rx="0" fill="#86b0b0" stroke="none" stroke-width="0" />
<rect x="303.7" y="715.8" width="5.1" height="1.1" rx="0" fill="#3f5f5f" stroke="none" stroke-width="0" />
<rect x="309.8" y="715.8" width="1.0" height="1.1" rx="0" fill="#3f5f5f" stroke="none" stroke-width="0" />
<rect x="302.5" y="714.4" width="15.5" height="0.6" rx="0" fill="#86b0b0" stroke="none" stroke-width="0" />
<rect x="303.7" y="721.7" width="4.0" height="1.1" rx="0" fill="#3f5f5f" stroke="none" stroke-width="0" />
<rect x="308.7" y="721.7" width="3.8" height="1.1" rx="0" fill="#3f5f5f" stroke="none" stroke-width="0" />
<rect x="302.5" y="720.3" width="15.5" height="0.6" rx="0" fill="#86b0b0" stroke="none" stroke-width="0" />
<rect x="303.7" y="728.8" width="3.9" height="1.1" rx="0" fill="#3f5f5f" stroke="none" stroke-width="0" />
<rect x="308.6" y="728.8" width="2.2" height="1.1" rx="0" fill="#3f5f5f" stroke="none" stroke-width="0" />
<rect x="302.5" y="727.4" width="15.5" height="0.6" rx="0" fill="#86b0b0" stroke="none" stroke-width="0" />
<rect x="303.7" y="735.5" width="4.2" height="1.1" rx="0" fill="#3f5f5f" stroke="none" stroke-width="0" />
<rect x="302.5" y="734.1" width="15.5" height="0.6" rx="0" fill="#86b0b0" stroke="none" stroke-width="0" />
<rect x="319.7" y="695.0" width="5.3" height="9.7" rx="0" fill="#fad4d0" stroke="none" stroke-width="0" />
<rect x="325.6" y="692.0" width="19.9" height="3.0" rx="0" fill="#e6f0b0" stroke="none" stroke-width="0" />
<rect x="325.6" y="695.0" width="19.9" height="48.4" rx="0" fill="#b2dada" stroke="none" stroke-width="0" />
<rect x="325.6" y="695.0" width="19.9" height="0.8" rx="0" fill="#7fa9a9" stroke="none" stroke-width="0" />
<rect x="327.1" y="696.5" width="4.5" height="1.1" rx="0" fill="#4a6a6a" stroke="none" stroke-width="0" />
<rect x="326.8" y="696.5" width="6.8" height="1.1" rx="0" fill="#3f5f5f" stroke="none" stroke-width="0" />
<rect x="325.6" y="695.1" width="19.9" height="0.6" rx="0" fill="#86b0b0" stroke="none" stroke-width="0" />
<rect x="326.8" y="700.9" width="4.4" height="1.1" rx="0" fill="#3f5f5f" stroke="none" stroke-width="0" />
<rect x="332.2" y="700.9" width="1.6" height="1.1" rx="0" fill="#3f5f5f" stroke="none" stroke-width="0" />
<rect x="325.6" y="699.5" width="19.9" height="0.6" rx="0" fill="#86b0b0" stroke="none" stroke-width="0" />
<rect x="326.8" y="705.2" width="5.2" height="1.1" rx="0" fill="#3f5f5f" stroke="none" stroke-width="0" />
<rect x="333.0" y="705.2" width="1.5" height="1.1" rx="0" fill="#3f5f5f" stroke="none" stroke-width="0" />
<rect x="325.6" y="703.8" width="19.9" height="0.6" rx="0" fill="#86b0b0" stroke="none" stroke-width="0" />
<rect x="326.8" y="709.5" width="7.5" height="1.1" rx="0" fill="#3f5f5f" stroke="none" stroke-width="0" />
<rect x="335.3" y="709.5" width="1.0" height="1.1" rx="0" fill="#3f5f5f" stroke="none" stroke-width="0" />
<rect x="325.6" y="708.1" width="19.9" height="0.6" rx="0" fill="#86b0b0" stroke="none" stroke-width="0" />
<rect x="326.8" y="713.8" width="4.2" height="1.1" rx="0" fill="#3f5f5f" stroke="none" stroke-width="0" />
<rect x="325.6" y="712.4" width="19.9" height="0.6" rx="0" fill="#86b0b0" stroke="none" stroke-width="0" />
<rect x="326.8" y="719.2" width="3.5" height="1.1" rx="0" fill="#3f5f5f" stroke="none" stroke-width="0" />
<rect x="331.3" y="719.2" width="0.9" height="1.1" rx="0" fill="#3f5f5f" stroke="none" stroke-width="0" />
<rect x="325.6" y="717.8" width="19.9" height="0.6" rx="0" fill="#86b0b0" stroke="none" stroke-width="0" />
<rect x="326.8" y="722.7" width="7.4" height="1.1" rx="0" fill="#3f5f5f" stroke="none" stroke-width="0" />
<rect x="335.2" y="722.7" width="2.1" height="1.1" rx="0" fill="#3f5f5f" stroke="none" stroke-width="0" />
<rect x="325.6" y="721.3" width="19.9" height="0.6" rx="0" fill="#86b0b0" stroke="none" stroke-width="0" />
<rect x="326.8" y="727.3" width="7.4" height="1.1" rx="0" fill="#3f5f5f" stroke="none" stroke-width="0" />
<rect x="335.2" y="727.3" width="1.0" height="1.1" rx="0" fill="#3f5f5f" stroke="none" stroke-width="0" />
<rect x="325.6" y="725.9" width="19.9" height="0.6" rx="0" fill="#86b0b0" stroke="none" stroke-width="0" />
<rect x="326.8" y="732.6" width="7.1" height="1.1" rx="0" fill="#3f5f5f" stroke="none" stroke-width="0" />
<rect x="334.9" y="732.6" width="1.0" height="1.1" rx="0" fill="#3f5f5f" stroke="none" stroke-width="0" />
<rect x="325.6" y="731.2" width="19.9" height="0.6" rx="0" fill="#86b0b0" stroke="none" stroke-width="0" />
<rect x="326.8" y="737.7" width="3.9" height="1.1" rx="0" fill="#3f5f5f" stroke="none" stroke-width="0" />
<rect x="325.6" y="736.3" width="19.9" height="0.6" rx="0" fill="#86b0b0" stroke="none" stroke-width="0" />
<rect x="389.8" y="630.0" width="22.0" height="2.7" rx="0" fill="#e2efa8" stroke="none" stroke-width="0" />
<rect x="422.0" y="630.0" width="23.0" height="2.7" rx="0" fill="#e2efa8" stroke="none" stroke-width="0" />
<rect x="461.8" y="630.0" width="15.6" height="2.7" rx="0" fill="#eef3c0" stroke="none" stroke-width="0" />
<rect x="389.8" y="639.0" width="60.7" height="5.0" rx="0" fill="#d2d2d2" stroke="none" stroke-width="0" />
<rect x="390.0" y="637.2" width="8.0" height="1.4" rx="0" fill="#666" stroke="none" stroke-width="0" />
<rect x="389.8" y="645.6" width="20.4" height="34.9" rx="0" fill="#b2dada" stroke="none" stroke-width="0" />
<rect x="389.8" y="645.6" width="20.4" height="0.8" rx="0" fill="#7fa9a9" stroke="none" stroke-width="0" />
<rect x="391.3" y="647.1" width="4.5" height="1.1" rx="0" fill="#4a6a6a" stroke="none" stroke-width="0" />
<rect x="410.8" y="645.6" width="20.9" height="36.4" rx="0" fill="#b2dada" stroke="none" stroke-width="0" />
<rect x="410.8" y="645.6" width="20.9" height="0.8" rx="0" fill="#7fa9a9" stroke="none" stroke-width="0" />
<rect x="412.3" y="647.1" width="4.5" height="1.1" rx="0" fill="#4a6a6a" stroke="none" stroke-width="0" />
<rect x="389.8" y="681.6" width="15.1" height="2.7" rx="0" fill="#b0f0ea" stroke="none" stroke-width="0" />
<rect x="389.8" y="684.8" width="20.4" height="26.9" rx="0" fill="#fad4d0" stroke="none" stroke-width="0" />
<rect x="411.3" y="684.8" width="20.4" height="26.4" rx="0" fill="#fad4d0" stroke="none" stroke-width="0" />
<rect x="389.8" y="713.3" width="20.4" height="24.7" rx="0" fill="#fad4d0" stroke="none" stroke-width="0" />
<rect x="411.3" y="712.2" width="20.4" height="17.2" rx="0" fill="#b2dada" stroke="none" stroke-width="0" />
<rect x="411.3" y="712.2" width="20.4" height="0.8" rx="0" fill="#7fa9a9" stroke="none" stroke-width="0" />
<rect x="412.8" y="713.7" width="4.5" height="1.1" rx="0" fill="#4a6a6a" stroke="none" stroke-width="0" />
<rect x="422.6" y="729.4" width="31.7" height="10.2" rx="0" fill="#c5d2d6" stroke="none" stroke-width="0" />
<rect x="434.4" y="645.6" width="19.3" height="86.0" rx="0" fill="#b2dada" stroke="none" stroke-width="0" />
<rect x="434.4" y="645.6" width="19.3" height="0.8" rx="0" fill="#7fa9a9" stroke="none" stroke-width="0" />
<rect x="435.9" y="647.1" width="4.5" height="1.1" rx="0" fill="#4a6a6a" stroke="none" stroke-width="0" />
<rect x="454.8" y="645.6" width="20.4" height="12.9" rx="0" fill="#b2dada" stroke="none" stroke-width="0" />
<rect x="454.8" y="645.6" width="20.4" height="0.8" rx="0" fill="#7fa9a9" stroke="none" stroke-width="0" />
<rect x="456.3" y="647.1" width="4.5" height="1.1" rx="0" fill="#4a6a6a" stroke="none" stroke-width="0" />
<rect x="454.8" y="659.0" width="20.4" height="23.0" rx="0" fill="#b2dada" stroke="none" stroke-width="0" />
<rect x="454.8" y="659.0" width="20.4" height="0.8" rx="0" fill="#7fa9a9" stroke="none" stroke-width="0" />
<rect x="456.3" y="660.5" width="4.5" height="1.1" rx="0" fill="#4a6a6a" stroke="none" stroke-width="0" />
<rect x="454.8" y="682.5" width="20.4" height="17.0" rx="0" fill="#b2dada" stroke="none" stroke-width="0" />
<rect x="454.8" y="682.5" width="20.4" height="0.8" rx="0" fill="#7fa9a9" stroke="none" stroke-width="0" />
<rect x="456.3" y="684.0" width="4.5" height="1.1" rx="0" fill="#4a6a6a" stroke="none" stroke-width="0" />
<rect x="454.8" y="700.0" width="20.4" height="19.0" rx="0" fill="#b2dada" stroke="none" stroke-width="0" />
<rect x="454.8" y="700.0" width="20.4" height="0.8" rx="0" fill="#7fa9a9" stroke="none" stroke-width="0" />
<rect x="456.3" y="701.5" width="4.5" height="1.1" rx="0" fill="#4a6a6a" stroke="none" stroke-width="0" />
<rect x="440.0" y="740.0" width="30.0" height="1.0" rx="0" fill="#99a" stroke="none" stroke-width="0" />
<rect x="516.0" y="627.6" width="34.4" height="1.6" rx="0" fill="#eef0a0" stroke="none" stroke-width="0" />
<rect x="491.5" y="632.6" width="36.1" height="2.8" rx="0" fill="#e0e0e0" stroke="#999" stroke-width="0.5" />
<rect x="491.5" y="637.0" width="91.5" height="6.2" rx="0" fill="#b2dada" stroke="none" stroke-width="0" />
<rect x="491.5" y="637.0" width="91.5" height="0.8" rx="0" fill="#7fa9a9" stroke="none" stroke-width="0" />
<rect x="493.0" y="638.5" width="4.5" height="1.1" rx="0" fill="#4a6a6a" stroke="none" stroke-width="0" />
<rect x="491.5" y="659.3" width="91.5" height="6.1" rx="0" fill="#b2dada" stroke="none" stroke-width="0" />
<rect x="491.5" y="659.3" width="91.5" height="0.8" rx="0" fill="#7fa9a9" stroke="none" stroke-width="0" />
<rect x="493.0" y="660.8" width="4.5" height="1.1" rx="0" fill="#4a6a6a" stroke="none" stroke-width="0" />
<rect x="491.5" y="682.0" width="91.5" height="8.5" rx="0" fill="#b2dada" stroke="none" stroke-width="0" />
<rect x="491.5" y="682.0" width="91.5" height="0.8" rx="0" fill="#7fa9a9" stroke="none" stroke-width="0" />
<rect x="493.0" y="683.5" width="4.5" height="1.1" rx="0" fill="#4a6a6a" stroke="none" stroke-width="0" />
<rect x="491.5" y="707.7" width="91.5" height="9.0" rx="0" fill="#b2dada" stroke="none" stroke-width="0" />
<rect x="491.5" y="707.7" width="91.5" height="0.8" rx="0" fill="#7fa9a9" stroke="none" stroke-width="0" />
<rect x="493.0" y="709.2" width="4.5" height="1.1" rx="0" fill="#4a6a6a" stroke="none" stroke-width="0" />
<rect x="491.5" y="732.8" width="91.5" height="7.2" rx="0" fill="#b2dada" stroke="none" stroke-width="0" />
<rect x="491.5" y="732.8" width="91.5" height="0.8" rx="0" fill="#7fa9a9" stroke="none" stroke-width="0" />
<rect x="493.0" y="734.3" width="4.5" height="1.1" rx="0" fill="#4a6a6a" stroke="none" stroke-width="0" />
<rect x="491.5" y="644.8" width="73.9" height="12.8" rx="0" fill="#c6cdd9" stroke="none" stroke-width="0" />
<rect x="491.5" y="667.0" width="71.1" height="13.0" rx="0" fill="#c6cdd9" stroke="none" stroke-width="0" />
<rect x="491.5" y="692.0" width="74.5" height="13.5" rx="0" fill="#c6cdd9" stroke="none" stroke-width="0" />
<rect x="491.5" y="718.3" width="70.0" height="13.4" rx="0" fill="#c6cdd9" stroke="none" stroke-width="0" />
<rect x="491.5" y="740.6" width="59.5" height="2.2" rx="0" fill="#d8d8e0" stroke="none" stroke-width="0" />
<rect x="505.0" y="640.5" width="30.0" height="1.5" rx="0" fill="#4a6a6a" stroke="none" stroke-width="0" />
<rect x="633.5" y="635.0" width="37.0" height="2.6" rx="0" fill="#f2e9b4" stroke="none" stroke-width="0" />
<rect x="595.0" y="634.5" width="12.0" height="1.5" rx="0" fill="#555" stroke="none" stroke-width="0" />
<rect x="603.4" y="641.3" width="20.4" height="1.7" rx="0" fill="#cfd8d8" stroke="none" stroke-width="0" />
<rect x="597.5" y="644.0" width="35.5" height="67.0" rx="0" fill="#b2dada" stroke="none" stroke-width="0" />
<rect x="597.5" y="644.0" width="35.5" height="0.8" rx="0" fill="#7fa9a9" stroke="none" stroke-width="0" />
<rect x="599.0" y="645.5" width="4.5" height="1.1" rx="0" fill="#4a6a6a" stroke="none" stroke-width="0" />
<rect x="597.5" y="711.0" width="35.5" height="21.6" rx="0" fill="#b2dada" stroke="none" stroke-width="0" />
<rect x="597.5" y="711.0" width="35.5" height="0.8" rx="0" fill="#7fa9a9" stroke="none" stroke-width="0" />
<rect x="599.0" y="712.5" width="4.5" height="1.1" rx="0" fill="#4a6a6a" stroke="none" stroke-width="0" />
<rect x="634.6" y="640.8" width="35.4" height="19.2" rx="0" fill="#b2dada" stroke="none" stroke-width="0" />
<rect x="636.1" y="642.3" width="4.5" height="1.1" rx="0" fill="#4a6a6a" stroke="none" stroke-width="0" />
<rect x="634.6" y="660.0" width="35.4" height="49.5" rx="0" fill="#b2dada" stroke="none" stroke-width="0" />
<rect x="634.6" y="660.0" width="35.4" height="0.8" rx="0" fill="#7fa9a9" stroke="none" stroke-width="0" />
<rect x="636.1" y="661.5" width="4.5" height="1.1" rx="0" fill="#4a6a6a" stroke="none" stroke-width="0" />
<rect x="634.6" y="713.8" width="35.4" height="19.9" rx="0" fill="#b2dada" stroke="none" stroke-width="0" />
<rect x="634.6" y="713.8" width="35.4" height="0.8" rx="0" fill="#7fa9a9" stroke="none" stroke-width="0" />
<rect x="636.1" y="715.3" width="4.5" height="1.1" rx="0" fill="#4a6a6a" stroke="none" stroke-width="0" />
<rect x="701.9" y="643.9" width="45.3" height="16.4" rx="0" fill="#c9dcc8" stroke="#9ab39a" stroke-width="0.4" />
<rect x="701.9" y="661.8" width="59.3" height="21.2" rx="0" fill="#b2dada" stroke="none" stroke-width="0" />
<rect x="701.9" y="661.8" width="59.3" height="0.8" rx="0" fill="#7fa9a9" stroke="none" stroke-width="0" />
<rect x="703.4" y="663.3" width="4.5" height="1.1" rx="0" fill="#4a6a6a" stroke="none" stroke-width="0" />
<rect x="701.9" y="686.8" width="55.4" height="13.2" rx="0" fill="#b2dada" stroke="none" stroke-width="0" />
<rect x="701.9" y="686.8" width="55.4" height="0.8" rx="0" fill="#7fa9a9" stroke="none" stroke-width="0" />
<rect x="703.4" y="688.3" width="4.5" height="1.1" rx="0" fill="#4a6a6a" stroke="none" stroke-width="0" />
<rect x="701.9" y="703.2" width="59.3" height="16.5" rx="0" fill="#b2dada" stroke="none" stroke-width="0" />
<rect x="701.9" y="703.2" width="59.3" height="0.8" rx="0" fill="#7fa9a9" stroke="none" stroke-width="0" />
<rect x="703.4" y="704.7" width="4.5" height="1.1" rx="0" fill="#4a6a6a" stroke="none" stroke-width="0" />
<rect x="701.9" y="721.2" width="55.4" height="11.8" rx="0" fill="#b2dada" stroke="none" stroke-width="0" />
<rect x="701.9" y="721.2" width="55.4" height="0.8" rx="0" fill="#7fa9a9" stroke="none" stroke-width="0" />
<rect x="703.4" y="722.7" width="4.5" height="1.1" rx="0" fill="#4a6a6a" stroke="none" stroke-width="0" />
<rect x="766.7" y="648.6" width="45.3" height="34.4" rx="0" fill="#fad4d0" stroke="none" stroke-width="0" />
<rect x="772.0" y="684.5" width="15.8" height="3.1" rx="0" fill="#b6f0e8" stroke="none" stroke-width="0" />
<rect x="768.3" y="703.2" width="29.7" height="33.6" rx="0" fill="#fad4d0" stroke="none" stroke-width="0" />
<rect x="772.0" y="740.8" width="12.7" height="3.2" rx="0" fill="#b6f0e8" stroke="none" stroke-width="0" />
<rect x="702.5" y="644.5" width="3.5" height="1.1" rx="0" fill="#555" stroke="none" stroke-width="0" />
<rect x="767.5" y="649.5" width="4.5" height="1.1" rx="0" fill="#555" stroke="none" stroke-width="0" />
<rect x="769.0" y="704.0" width="4.0" height="1.2" rx="0" fill="#555" stroke="none" stroke-width="0" />
<path d="M451.9,343.1 Q468,353 498,352.3 L497.5,346.6 L522.6,354.5 L497.5,362.5 L498,358.2 Q466,357 451.9,343.1Z" fill="#cf1015"/>
<path d="M658.8,359.4 L684,366.2 L684,362.3 L696.9,369.3 L684,376 L684,372.4 Q668,370 658.8,359.4Z" fill="#cf1015"/>
<path d="M821.6,420.5 L825.5,453.4 L831.9,453.4 L821.6,465.4 L811.4,453.4 L817.7,453.4Z" fill="#cf1015"/>
<path d="M567.3,463.1 L531.4,459.8 L531.4,454.1 L519,463.1 L531.4,472.7 L531.4,467 Z" fill="#cf1015"/>
<rect x="468.1" y="323.8" width="20.2" height="18.4" rx="0" fill="#c0161c" stroke="#4a0808" stroke-width="0.8" />
<text x="478.2" y="339.2" font-family="Liberation Serif" font-size="17.47999999999998" font-weight="bold" fill="#fff" text-anchor="middle" >1</text>
<rect x="538.1" y="436.7" width="20.2" height="17.4" rx="0" fill="#c0161c" stroke="#4a0808" stroke-width="0.8" />
<text x="548.2" y="451.1" font-family="Liberation Serif" font-size="16.530000000000033" font-weight="bold" fill="#fff" text-anchor="middle" >4</text>
<rect x="794.7" y="427.3" width="19.9" height="17.3" rx="0" fill="#c0161c" stroke="#4a0808" stroke-width="0.8" />
<text x="804.7" y="441.6" font-family="Liberation Serif" font-size="16.43500000000001" font-weight="bold" fill="#fff" text-anchor="middle" >3</text>
<rect x="667.9" y="380.5" width="22.5" height="18.1" rx="0" fill="#c0161c" stroke="#4a0808" stroke-width="0.8" />
<text x="679.1" y="395.6" font-family="Liberation Serif" font-size="17.19500000000002" font-weight="bold" fill="#fff" text-anchor="middle" >2</text>
<g><path d="M583.55,451.16 L596.8,443.6 L610.05,451.16 L596.8,458.72Z" fill="#789a78"/><path d="M583.55,456.452 L596.8,464.012 L610.05,456.452" fill="none" stroke="#6f8d72" stroke-width="1.6"/><path d="M583.55,461.744 L596.8,469.30400000000003 L610.05,461.744" fill="none" stroke="#6f8d72" stroke-width="1.6"/></g>
<g><path d="M519.0,405.66 L531.5,399.5 L544.0,405.66 L531.5,411.82Z" fill="#789a78"/><path d="M519.0,409.972 L531.5,416.132 L544.0,409.972" fill="none" stroke="#6f8d72" stroke-width="1.5"/><path d="M519.0,414.284 L531.5,420.444 L544.0,414.284" fill="none" stroke="#6f8d72" stroke-width="1.5"/></g>
<g><path d="M633.0,405.66 L645.5,399.5 L658.0,405.66 L645.5,411.82Z" fill="#789a78"/><path d="M633.0,409.972 L645.5,416.132 L658.0,409.972" fill="none" stroke="#6f8d72" stroke-width="1.5"/><path d="M633.0,414.284 L645.5,420.444 L658.0,414.284" fill="none" stroke="#6f8d72" stroke-width="1.5"/><path d="M652.375,398.5 l1.6,3.2 3.5,0.4 -2.6,2.4 0.8,3.4 -3.3,-1.8 -3.3,1.8 0.8,-3.4 -2.6,-2.4 3.5,-0.4Z" fill="#f0c010"/></g>
<g fill="#1f3f95" stroke="#1f3f95"><circle cx="230" cy="457.5" r="5.2"/><circle cx="220.8" cy="448" r="3"/><circle cx="239.5" cy="448" r="3"/><circle cx="220.8" cy="467" r="3"/><circle cx="239.5" cy="467" r="3"/><path d="M220.8,448 L239.5,467 M239.5,448 L220.8,467" stroke-width="1.6" fill="none"/></g>
<g><circle cx="700.4" cy="335.9" r="13.6" fill="#1c3b8f"/><circle cx="698.2" cy="334" r="4.6" fill="none" stroke="#fff" stroke-width="2.2"/><path d="M701.5,337.5 L706.5,342.5" stroke="#fff" stroke-width="2.4" stroke-linecap="round"/></g>
<g><rect x="524.3" y="324.4" width="27.8" height="27" fill="#f6f8fb" stroke="#8a8f98" stroke-width="1.1"/><path d="M524.8,335.8 L536.5,338 L551.6,351 L524.8,351Z" fill="#c6d2e6"/><circle cx="545.6" cy="331.4" r="3.8" fill="#f3dc8a"/><path d="M540.5,336.4 L555.6,336.4 M540.5,354.2 L555.6,354.2" stroke="#2d68b8" stroke-width="1.6"/><path d="M542.2,336.6 Q542.5,343 548,345.3 Q553.5,343 553.9,336.6 M542.2,354 Q542.5,347.5 548,345.3 Q553.5,347.5 553.9,354" fill="#fff" stroke="#2d68b8" stroke-width="1.3"/><path d="M542.6,353.6 Q544,349.5 548,348.5 Q552,349.5 553.5,353.6Z" fill="#2d68b8"/></g>
<g><rect x="370.5" y="392.8" width="22.95" height="27.5" fill="#e1e5ec" stroke="#aeb4be" stroke-width="0.9"/><rect x="377.64" y="396.375" width="18.36" height="6.875" rx="1" fill="#8a9099"/><text x="386.82" y="401.6" font-family="Liberation Sans" font-weight="bold" font-size="4.4" fill="#eee" text-anchor="middle">HTML</text><text x="381.975" y="414.25" font-family="Liberation Sans" font-size="8.2" fill="#7a808a" text-anchor="middle">&lt;/&gt;</text></g>
<g><rect x="413.01" y="395.96" width="11.003999999999994" height="20.480000000000018" fill="#fff" stroke="#c96060" stroke-width="0.9"/><path d="M398.6,395.448 L413.272,393.4 L413.272,419 L398.6,417.464Z" fill="#e03a28"/><text x="405.93600000000004" y="408.76" font-family="Liberation Sans" font-weight="bold" font-size="5.1" fill="#fff" text-anchor="middle">PDF</text><path d="M416.94,409.272 L418.512,402.36 L421.132,409.272 M415.892,407.48 L422.18,408.248" fill="none" stroke="#c22" stroke-width="0.9"/></g>
<g><path d="M434.26,392.8 L448.725,392.8 L455.3,397.94 L455.3,418.5 L434.26,418.5Z" fill="#fbfbfb" stroke="#b8bcc4" stroke-width="0.9"/><path d="M448.725,392.8 L448.725,397.94 L455.3,397.94" fill="none" stroke="#b8bcc4" stroke-width="0.9"/><rect x="429" y="401.281" width="12.624000000000004" height="12.078999999999994" fill="#2a5fb4"/><text x="435.312" y="411.561" font-family="Liberation Sans" font-weight="bold" font-size="10.8" fill="#fff" text-anchor="middle">W</text><rect x="443.46500000000003" y="404.365" width="9.468000000000004" height="1.7989999999999993" fill="#7fa3c8"/><rect x="443.46500000000003" y="408.22" width="9.468000000000004" height="1.7989999999999993" fill="#7fa3c8"/></g>
<g><path d="M466.6,392.8 L478.0,392.8 L478.0,400.9 M478.0,417.0 L478.0,419.7 L460.2,419.7 L460.2,399.2 L466.6,392.8 M460.2,399.2 L466.6,399.2 L466.6,392.8" fill="none" stroke="#111" stroke-width="1.60" stroke-linejoin="round"/><rect x="470.5" y="400.9" width="12.5" height="14.8" rx="1.6" fill="#111"/><text x="476.7" y="411.1" font-family="Liberation Sans" font-weight="bold" font-size="7.0" fill="#fff" text-anchor="middle" textLength="9.1" lengthAdjust="spacingAndGlyphs">M4</text></g>
<g><path d="M524.7,368.6 L536.4,368.6 L536.4,376.5 M536.4,392.4 L536.4,395.0 L518.1,395.0 L518.1,375.2 L524.7,368.6 M518.1,375.2 L524.7,375.2 L524.7,368.6" fill="none" stroke="#111" stroke-width="1.64" stroke-linejoin="round"/><rect x="528.6" y="376.5" width="12.9" height="14.5" rx="1.6" fill="#111"/><text x="535.1" y="386.6" font-family="Liberation Sans" font-weight="bold" font-size="6.9" fill="#fff" text-anchor="middle" textLength="9.4" lengthAdjust="spacingAndGlyphs">M4</text></g>
<g><rect x="547.4" y="368.6" width="23.49000000000002" height="27.799999999999955" fill="#e1e5ec" stroke="#aeb4be" stroke-width="0.9"/><rect x="554.708" y="372.214" width="18.792000000000016" height="6.949999999999989" rx="1" fill="#8a9099"/><text x="564.104" y="377.496" font-family="Liberation Sans" font-weight="bold" font-size="4.4" fill="#eee" text-anchor="middle">HTML</text><text x="559.145" y="390.284" font-family="Liberation Sans" font-size="8.3" fill="#7a808a" text-anchor="middle">&lt;/&gt;</text></g>
<g><path d="M581.4,368.6 L596.25,368.6 L603,374.08000000000004 L603,396 L581.4,396Z" fill="#fbfbfb" stroke="#b8bcc4" stroke-width="0.9"/><path d="M596.25,368.6 L596.25,374.08000000000004 L603,374.08000000000004" fill="none" stroke="#b8bcc4" stroke-width="0.9"/><rect x="576" y="377.642" width="12.959999999999999" height="12.87799999999999" fill="#2a5fb4"/><text x="582.48" y="388.60200000000003" font-family="Liberation Sans" font-weight="bold" font-size="11.5" fill="#fff" text-anchor="middle">W</text><rect x="590.85" y="380.93" width="9.719999999999999" height="1.9179999999999986" fill="#7fa3c8"/><rect x="590.85" y="385.04" width="9.719999999999999" height="1.9179999999999986" fill="#7fa3c8"/></g>
<g><rect x="649.12" y="372.35" width="11.08799999999999" height="18.8" fill="#fff" stroke="#c96060" stroke-width="0.9"/><path d="M634.6,371.88 L649.384,370 L649.384,393.5 L634.6,392.09Z" fill="#e03a28"/><text x="641.992" y="384.1" font-family="Liberation Sans" font-weight="bold" font-size="4.7" fill="#fff" text-anchor="middle">PDF</text><path d="M653.08,384.57 L654.664,378.225 L657.304,384.57 M652.024,382.925 L658.36,383.63" fill="none" stroke="#c22" stroke-width="0.9"/></g>
<g><rect x="718.46" y="398.5" width="11.424000000000019" height="20.0" fill="#fff" stroke="#c96060" stroke-width="0.9"/><path d="M703.5,398.0 L718.732,396 L718.732,421 L703.5,419.5Z" fill="#e03a28"/><text x="711.116" y="411.0" font-family="Liberation Sans" font-weight="bold" font-size="5.0" fill="#fff" text-anchor="middle">PDF</text><path d="M722.5400000000001,411.5 L724.172,404.75 L726.892,411.5 M721.452,409.75 L727.98,410.5" fill="none" stroke="#c22" stroke-width="0.9"/></g>
<path d="M606.7,381 L627.2,381" stroke="#333" stroke-width="1"/><path d="M630.2,381 L626.2,379 L626.2,383Z" fill="#333"/>
<text x="619.9" y="377.4" font-family="Liberation Serif" font-size="6.8" font-weight="normal" fill="#333" text-anchor="middle" >PDF</text>
<text x="619.9" y="389.6" font-family="Liberation Serif" font-size="6.8" font-weight="normal" fill="#333" text-anchor="middle" >Reader</text>
<path d="M546.7,410 L572.3,410" stroke="#333" stroke-width="1"/><path d="M575.3,410 L571.3,408 L571.3,412Z" fill="#333"/>
<text x="561.0" y="406.7" font-family="Liberation Serif" font-size="6.8" font-weight="normal" fill="#333" text-anchor="middle" >Remove</text>
<text x="561.0" y="418.6" font-family="Liberation Serif" font-size="6.8" font-weight="normal" fill="#333" text-anchor="middle" >Duplicate</text>
<path d="M602.4,410 L628,410" stroke="#333" stroke-width="1"/><path d="M631,410 L627,408 L627,412Z" fill="#333"/>
<text x="616.7" y="406.7" font-family="Liberation Serif" font-size="6.8" font-weight="normal" fill="#333" text-anchor="middle" >Filter</text>
<text x="616.7" y="418.6" font-family="Liberation Serif" font-size="6.8" font-weight="normal" fill="#333" text-anchor="middle" >Clean</text>
<g><rect x="579.4" y="401.2" width="8.8" height="7.6" fill="#fff" stroke="#222" stroke-width="1.3"/><rect x="589.4" y="412.6" width="9" height="7.8" fill="#2f7fd0" stroke="#222" stroke-width="1"/><path d="M590,401.5 Q596,402 596.5,408.5" fill="none" stroke="#222" stroke-width="1.2"/><path d="M594.5,407.5 L596.6,410 L598.3,407" fill="none" stroke="#222" stroke-width="1.1"/><path d="M587.5,420 Q581.5,419.5 581,413" fill="none" stroke="#222" stroke-width="1.2"/><path d="M579.3,414 L581,411.5 L583,414" fill="none" stroke="#222" stroke-width="1.1"/></g>
<g><path d="M707,368.5 L713,368.5 L713,379 Q714,384 720,383 Q724.5,381 724.5,375 L724.5,368 L729.5,368 L729.5,377 Q729,388.5 717.5,388.5 Q706.5,388 706.2,379Z" fill="#111"/><path d="M709,371 L709,379 Q710.5,385.5 717,385.5" fill="none" stroke="#fff" stroke-width="1.2"/><circle cx="720.5" cy="365.5" r="1.9" fill="#111"/><circle cx="725" cy="365" r="1.9" fill="#111"/></g>
<path d="M699,393 L732,393" stroke="#444" stroke-width="1.1"/><path d="M735.2,393 L731,391 L731,395Z" fill="#444"/>
<rect x="745.8" y="358.9" width="65.2" height="68.1" rx="0" fill="#fdfdfd" stroke="#8a8a8a" stroke-width="0.7" />
<rect x="752.7" y="360.4" width="25.3" height="27.6" rx="0" fill="#f2dde6" stroke="none" stroke-width="0" />
<rect x="779.0" y="360.4" width="26.6" height="27.6" rx="0" fill="#f7dccd" stroke="none" stroke-width="0" />
<circle cx="764.8" cy="374" r="11" fill="#efe6e4"/><circle cx="792.8" cy="374" r="11" fill="#f2cfc0"/>
<rect x="792.4" y="373.3" width="0.9" height="0.9" fill="#888"/>
<rect x="757.8" y="369.2" width="0.9" height="0.9" fill="#b05a5a"/>
<rect x="798.9" y="375.5" width="0.9" height="0.9" fill="#6a7fb0"/>
<rect x="766.4" y="379.2" width="0.9" height="0.9" fill="#c08040"/>
<rect x="791.6" y="363.7" width="0.9" height="0.9" fill="#999"/>
<rect x="771.0" y="374.4" width="0.9" height="0.9" fill="#888"/>
<rect x="786.9" y="380.1" width="0.9" height="0.9" fill="#6a7fb0"/>
<rect x="767.6" y="383.2" width="0.9" height="0.9" fill="#c08040"/>
<rect x="785.9" y="374.7" width="0.9" height="0.9" fill="#999"/>
<rect x="758.5" y="378.9" width="0.9" height="0.9" fill="#888"/>
<rect x="784.3" y="372.2" width="0.9" height="0.9" fill="#666"/>
<rect x="762.5" y="367.5" width="0.9" height="0.9" fill="#5a8a5a"/>
<rect x="789.3" y="367.9" width="0.9" height="0.9" fill="#6a7fb0"/>
<rect x="761.7" y="381.5" width="0.9" height="0.9" fill="#5a8a5a"/>
<rect x="791.6" y="374.8" width="0.9" height="0.9" fill="#999"/>
<rect x="771.3" y="373.8" width="0.9" height="0.9" fill="#b05a5a"/>
<rect x="787.5" y="378.4" width="0.9" height="0.9" fill="#6a7fb0"/>
<rect x="760.9" y="375.7" width="0.9" height="0.9" fill="#6a7fb0"/>
<rect x="795.7" y="367.8" width="0.9" height="0.9" fill="#5a8a5a"/>
<rect x="760.6" y="375.1" width="0.9" height="0.9" fill="#6a7fb0"/>
<rect x="796.7" y="375.3" width="0.9" height="0.9" fill="#999"/>
<rect x="767.5" y="372.3" width="0.9" height="0.9" fill="#c08040"/>
<rect x="801.1" y="369.9" width="0.9" height="0.9" fill="#b05a5a"/>
<rect x="768.3" y="378.6" width="0.9" height="0.9" fill="#c08040"/>
<rect x="794.1" y="376.5" width="0.9" height="0.9" fill="#666"/>
<rect x="755.1" y="374.6" width="0.9" height="0.9" fill="#999"/>
<rect x="794.1" y="377.6" width="0.9" height="0.9" fill="#6a7fb0"/>
<rect x="772.2" y="372.8" width="0.9" height="0.9" fill="#6a7fb0"/>
<rect x="786.1" y="368.6" width="0.9" height="0.9" fill="#6a7fb0"/>
<rect x="771.8" y="369.2" width="0.9" height="0.9" fill="#999"/>
<rect x="799.5" y="368.5" width="0.9" height="0.9" fill="#999"/>
<rect x="766.0" y="380.8" width="0.9" height="0.9" fill="#999"/>
<rect x="795.3" y="381.0" width="0.9" height="0.9" fill="#c08040"/>
<rect x="766.2" y="380.7" width="0.9" height="0.9" fill="#c08040"/>
<rect x="796.4" y="379.4" width="0.9" height="0.9" fill="#b05a5a"/>
<rect x="765.0" y="383.2" width="0.9" height="0.9" fill="#b05a5a"/>
<rect x="800.6" y="376.1" width="0.9" height="0.9" fill="#999"/>
<rect x="760.6" y="366.2" width="0.9" height="0.9" fill="#5a8a5a"/>
<rect x="799.0" y="379.6" width="0.9" height="0.9" fill="#c08040"/>
<rect x="770.3" y="366.2" width="0.9" height="0.9" fill="#888"/>
<rect x="785.6" y="378.0" width="0.9" height="0.9" fill="#666"/>
<rect x="759.8" y="378.2" width="0.9" height="0.9" fill="#c08040"/>
<rect x="791.3" y="374.6" width="0.9" height="0.9" fill="#c08040"/>
<rect x="772.1" y="373.3" width="0.9" height="0.9" fill="#666"/>
<rect x="793.6" y="364.5" width="0.9" height="0.9" fill="#666"/>
<rect x="769.8" y="365.7" width="0.9" height="0.9" fill="#666"/>
<rect x="795.8" y="376.4" width="0.9" height="0.9" fill="#666"/>
<rect x="758.4" y="381.3" width="0.9" height="0.9" fill="#c08040"/>
<rect x="790.6" y="373.9" width="0.9" height="0.9" fill="#888"/>
<rect x="771.9" y="381.6" width="0.9" height="0.9" fill="#5a8a5a"/>
<rect x="794.1" y="366.4" width="0.9" height="0.9" fill="#6a7fb0"/>
<rect x="764.9" y="363.8" width="0.9" height="0.9" fill="#888"/>
<rect x="796.6" y="372.8" width="0.9" height="0.9" fill="#999"/>
<rect x="772.5" y="377.4" width="0.9" height="0.9" fill="#888"/>
<rect x="794.7" y="369.6" width="0.9" height="0.9" fill="#666"/>
<rect x="762.5" y="383.5" width="0.9" height="0.9" fill="#999"/>
<rect x="797.7" y="382.3" width="0.9" height="0.9" fill="#b05a5a"/>
<rect x="770.7" y="376.6" width="0.9" height="0.9" fill="#999"/>
<rect x="792.7" y="380.1" width="0.9" height="0.9" fill="#c08040"/>
<rect x="763.3" y="383.6" width="0.9" height="0.9" fill="#b05a5a"/>
<rect x="792.5" y="384.6" width="0.9" height="0.9" fill="#666"/>
<rect x="766.2" y="379.3" width="0.9" height="0.9" fill="#c08040"/>
<rect x="793.3" y="380.6" width="0.9" height="0.9" fill="#b05a5a"/>
<rect x="766.6" y="377.9" width="0.9" height="0.9" fill="#5a8a5a"/>
<rect x="788.4" y="364.8" width="0.9" height="0.9" fill="#b05a5a"/>
<rect x="766.2" y="368.6" width="0.9" height="0.9" fill="#999"/>
<rect x="784.3" y="372.4" width="0.9" height="0.9" fill="#5a8a5a"/>
<rect x="771.9" y="372.4" width="0.9" height="0.9" fill="#c08040"/>
<rect x="783.9" y="369.1" width="0.9" height="0.9" fill="#6a7fb0"/>
<rect x="764.7" y="381.9" width="0.9" height="0.9" fill="#999"/>
<rect x="785.2" y="380.0" width="0.9" height="0.9" fill="#5a8a5a"/>
<rect x="760.1" y="378.6" width="0.9" height="0.9" fill="#b05a5a"/>
<rect x="786.8" y="381.3" width="0.9" height="0.9" fill="#666"/>
<rect x="765.9" y="382.4" width="0.9" height="0.9" fill="#6a7fb0"/>
<rect x="790.6" y="381.4" width="0.9" height="0.9" fill="#5a8a5a"/>
<rect x="757.9" y="365.8" width="0.9" height="0.9" fill="#c08040"/>
<rect x="802.0" y="369.5" width="0.9" height="0.9" fill="#888"/>
<rect x="766.8" y="374.0" width="0.9" height="0.9" fill="#b05a5a"/>
<rect x="790.6" y="382.3" width="0.9" height="0.9" fill="#666"/>
<rect x="754.6" y="373.2" width="0.9" height="0.9" fill="#b05a5a"/>
<rect x="784.4" y="374.6" width="0.9" height="0.9" fill="#6a7fb0"/>
<rect x="765.3" y="374.1" width="0.9" height="0.9" fill="#5a8a5a"/>
<rect x="790.2" y="381.4" width="0.9" height="0.9" fill="#c08040"/>
<rect x="766.1" y="382.1" width="0.9" height="0.9" fill="#c08040"/>
<rect x="797.2" y="378.9" width="0.9" height="0.9" fill="#999"/>
<rect x="760.9" y="374.6" width="0.9" height="0.9" fill="#999"/>
<rect x="793.0" y="378.2" width="0.9" height="0.9" fill="#6a7fb0"/>
<rect x="768.6" y="375.6" width="0.9" height="0.9" fill="#888"/>
<rect x="794.2" y="367.3" width="0.9" height="0.9" fill="#5a8a5a"/>
<rect x="767.3" y="373.5" width="0.9" height="0.9" fill="#999"/>
<rect x="786.9" y="371.6" width="0.9" height="0.9" fill="#888"/>
<rect x="757.4" y="370.0" width="0.9" height="0.9" fill="#c08040"/>
<rect x="792.2" y="368.6" width="0.9" height="0.9" fill="#6a7fb0"/>
<rect x="772.4" y="376.1" width="0.9" height="0.9" fill="#666"/>
<rect x="794.5" y="378.0" width="0.9" height="0.9" fill="#999"/>
<rect x="771.5" y="379.2" width="0.9" height="0.9" fill="#888"/>
<rect x="796.6" y="372.5" width="0.9" height="0.9" fill="#b05a5a"/>
<rect x="756.2" y="373.0" width="0.9" height="0.9" fill="#888"/>
<rect x="786.7" y="366.4" width="0.9" height="0.9" fill="#b05a5a"/>
<rect x="762.1" y="373.9" width="0.9" height="0.9" fill="#888"/>
<rect x="802.5" y="377.1" width="0.9" height="0.9" fill="#999"/>
<rect x="757.0" y="375.1" width="0.9" height="0.9" fill="#666"/>
<rect x="798.0" y="366.3" width="0.9" height="0.9" fill="#666"/>
<rect x="772.5" y="378.2" width="0.9" height="0.9" fill="#b05a5a"/>
<rect x="793.3" y="377.5" width="0.9" height="0.9" fill="#b05a5a"/>
<rect x="762.5" y="371.0" width="0.9" height="0.9" fill="#888"/>
<rect x="802.1" y="369.2" width="0.9" height="0.9" fill="#5a8a5a"/>
<rect x="763.5" y="368.6" width="0.9" height="0.9" fill="#c08040"/>
<rect x="788.9" y="365.9" width="0.9" height="0.9" fill="#c08040"/>
<rect x="770.6" y="373.0" width="0.9" height="0.9" fill="#b05a5a"/>
<rect x="799.4" y="377.9" width="0.9" height="0.9" fill="#b05a5a"/>
<rect x="764.5" y="379.2" width="0.9" height="0.9" fill="#888"/>
<rect x="794.1" y="378.1" width="0.9" height="0.9" fill="#5a8a5a"/>
<rect x="767.2" y="380.3" width="0.9" height="0.9" fill="#c08040"/>
<rect x="793.5" y="384.3" width="0.9" height="0.9" fill="#888"/>
<rect x="774.2" y="368.9" width="0.9" height="0.9" fill="#999"/>
<rect x="800.1" y="373.0" width="0.9" height="0.9" fill="#999"/>
<rect x="764.0" y="373.8" width="0.9" height="0.9" fill="#6a7fb0"/>
<rect x="784.3" y="377.5" width="0.9" height="0.9" fill="#c08040"/>
<rect x="772.0" y="367.6" width="0.9" height="0.9" fill="#666"/>
<rect x="790.6" y="371.9" width="0.9" height="0.9" fill="#b05a5a"/>
<rect x="765.9" y="375.4" width="0.9" height="0.9" fill="#6a7fb0"/>
<rect x="789.7" y="371.0" width="0.9" height="0.9" fill="#b05a5a"/>
<rect x="764.2" y="372.2" width="0.9" height="0.9" fill="#b05a5a"/>
<rect x="789.7" y="366.0" width="0.9" height="0.9" fill="#888"/>
<rect x="766.9" y="375.0" width="0.9" height="0.9" fill="#999"/>
<rect x="787.3" y="370.5" width="0.9" height="0.9" fill="#999"/>
<rect x="772.4" y="371.8" width="0.9" height="0.9" fill="#888"/>
<rect x="802.0" y="378.0" width="0.9" height="0.9" fill="#888"/>
<rect x="768.1" y="372.8" width="0.9" height="0.9" fill="#b05a5a"/>
<rect x="793.4" y="375.9" width="0.9" height="0.9" fill="#999"/>
<rect x="772.7" y="369.0" width="0.9" height="0.9" fill="#6a7fb0"/>
<rect x="796.7" y="366.3" width="0.9" height="0.9" fill="#5a8a5a"/>
<rect x="760.9" y="374.6" width="0.9" height="0.9" fill="#999"/>
<rect x="793.0" y="369.1" width="0.9" height="0.9" fill="#5a8a5a"/>
<rect x="762.0" y="378.7" width="0.9" height="0.9" fill="#5a8a5a"/>
<rect x="792.6" y="379.7" width="0.9" height="0.9" fill="#888"/>
<rect x="765.4" y="363.7" width="0.9" height="0.9" fill="#999"/>
<rect x="800.3" y="372.3" width="0.9" height="0.9" fill="#999"/>
<rect x="762.6" y="383.1" width="0.9" height="0.9" fill="#999"/>
<rect x="786.7" y="377.7" width="0.9" height="0.9" fill="#999"/>
<rect x="770.8" y="378.3" width="0.9" height="0.9" fill="#6a7fb0"/>
<rect x="787.9" y="372.8" width="0.9" height="0.9" fill="#999"/>
<rect x="768.6" y="366.8" width="0.9" height="0.9" fill="#5a8a5a"/>
<rect x="793.0" y="374.3" width="0.9" height="0.9" fill="#b05a5a"/>
<rect x="762.6" y="383.1" width="0.9" height="0.9" fill="#6a7fb0"/>
<rect x="800.4" y="374.2" width="0.9" height="0.9" fill="#666"/>
<rect x="761.5" y="364.8" width="0.9" height="0.9" fill="#666"/>
<rect x="784.0" y="368.2" width="0.9" height="0.9" fill="#c08040"/>
<rect x="764.1" y="384.5" width="0.9" height="0.9" fill="#5a8a5a"/>
<rect x="796.9" y="364.4" width="0.9" height="0.9" fill="#b05a5a"/>
<rect x="761.2" y="374.0" width="0.9" height="0.9" fill="#888"/>
<rect x="793.6" y="366.5" width="0.9" height="0.9" fill="#888"/>
<rect x="761.6" y="372.7" width="0.9" height="0.9" fill="#5a8a5a"/>
<rect x="788.6" y="379.4" width="0.9" height="0.9" fill="#666"/>
<rect x="772.0" y="368.1" width="0.9" height="0.9" fill="#666"/>
<rect x="794.1" y="372.9" width="0.9" height="0.9" fill="#b05a5a"/>
<rect x="762.5" y="380.7" width="0.9" height="0.9" fill="#c08040"/>
<rect x="786.1" y="374.0" width="0.9" height="0.9" fill="#888"/>
<rect x="765.6" y="381.3" width="0.9" height="0.9" fill="#c08040"/>
<rect x="785.3" y="369.0" width="0.9" height="0.9" fill="#c08040"/>
<rect x="760.9" y="368.9" width="0.9" height="0.9" fill="#5a8a5a"/>
<rect x="782.8" y="372.6" width="0.9" height="0.9" fill="#666"/>
<rect x="759.9" y="366.1" width="0.9" height="0.9" fill="#b05a5a"/>
<rect x="784.1" y="376.1" width="0.9" height="0.9" fill="#5a8a5a"/>
<rect x="761.4" y="372.2" width="0.9" height="0.9" fill="#666"/>
<rect x="787.2" y="367.0" width="0.9" height="0.9" fill="#c08040"/>
<rect x="766.9" y="379.5" width="0.9" height="0.9" fill="#888"/>
<rect x="796.7" y="366.5" width="0.9" height="0.9" fill="#888"/>
<rect x="767.8" y="378.5" width="0.9" height="0.9" fill="#5a8a5a"/>
<rect x="787.7" y="370.2" width="0.9" height="0.9" fill="#b05a5a"/>
<rect x="762.6" y="378.1" width="0.9" height="0.9" fill="#888"/>
<rect x="797.2" y="373.8" width="0.9" height="0.9" fill="#888"/>
<rect x="770.2" y="378.0" width="0.9" height="0.9" fill="#b05a5a"/>
<rect x="795.4" y="365.1" width="0.9" height="0.9" fill="#666"/>
<rect x="764.3" y="377.5" width="0.9" height="0.9" fill="#6a7fb0"/>
<rect x="790.9" y="384.0" width="0.9" height="0.9" fill="#666"/>
<rect x="771.5" y="375.4" width="0.9" height="0.9" fill="#999"/>
<rect x="788.1" y="376.0" width="0.9" height="0.9" fill="#888"/>
<rect x="764.3" y="375.5" width="0.9" height="0.9" fill="#5a8a5a"/>
<rect x="787.3" y="369.8" width="0.9" height="0.9" fill="#888"/>
<rect x="765.3" y="384.0" width="0.9" height="0.9" fill="#888"/>
<rect x="784.4" y="369.8" width="0.9" height="0.9" fill="#666"/>
<rect x="769.8" y="366.7" width="0.9" height="0.9" fill="#888"/>
<rect x="799.7" y="367.5" width="0.9" height="0.9" fill="#888"/>
<rect x="760.3" y="371.4" width="0.9" height="0.9" fill="#b05a5a"/>
<rect x="788.2" y="368.4" width="0.9" height="0.9" fill="#5a8a5a"/>
<rect x="764.3" y="383.0" width="0.9" height="0.9" fill="#666"/>
<rect x="793.1" y="380.8" width="0.9" height="0.9" fill="#888"/>
<rect x="761.1" y="370.1" width="0.9" height="0.9" fill="#666"/>
<rect x="791.3" y="374.2" width="0.9" height="0.9" fill="#999"/>
<rect x="757.3" y="378.8" width="0.9" height="0.9" fill="#999"/>
<rect x="796.4" y="382.0" width="0.9" height="0.9" fill="#999"/>
<rect x="774.6" y="374.7" width="0.9" height="0.9" fill="#6a7fb0"/>
<rect x="800.5" y="375.9" width="0.9" height="0.9" fill="#b05a5a"/>
<rect x="762.6" y="363.7" width="0.9" height="0.9" fill="#b05a5a"/>
<rect x="789.4" y="373.6" width="0.9" height="0.9" fill="#c08040"/>
<rect x="760.1" y="375.3" width="0.9" height="0.9" fill="#666"/>
<rect x="784.2" y="373.4" width="0.9" height="0.9" fill="#999"/>
<rect x="760.5" y="378.6" width="0.9" height="0.9" fill="#888"/>
<rect x="797.5" y="372.4" width="0.9" height="0.9" fill="#888"/>
<rect x="767.9" y="381.1" width="0.9" height="0.9" fill="#6a7fb0"/>
<rect x="791.7" y="365.6" width="0.9" height="0.9" fill="#888"/>
<rect x="770.1" y="376.0" width="0.9" height="0.9" fill="#666"/>
<rect x="795.5" y="375.1" width="0.9" height="0.9" fill="#666"/>
<rect x="758.7" y="367.6" width="0.9" height="0.9" fill="#c08040"/>
<rect x="792.3" y="379.1" width="0.9" height="0.9" fill="#888"/>
<rect x="756.3" y="380.2" width="0.9" height="0.9" fill="#b05a5a"/>
<rect x="803.4" y="373.6" width="0.9" height="0.9" fill="#666"/>
<rect x="765.7" y="377.8" width="0.9" height="0.9" fill="#999"/>
<rect x="801.6" y="378.0" width="0.9" height="0.9" fill="#b05a5a"/>
<rect x="756.9" y="375.6" width="0.9" height="0.9" fill="#b05a5a"/>
<rect x="794.4" y="370.2" width="0.9" height="0.9" fill="#888"/>
<rect x="758.5" y="366.5" width="0.9" height="0.9" fill="#999"/>
<rect x="783.6" y="379.6" width="0.9" height="0.9" fill="#999"/>
<rect x="761.2" y="372.9" width="0.9" height="0.9" fill="#999"/>
<rect x="783.4" y="375.8" width="0.9" height="0.9" fill="#b05a5a"/>
<rect x="764.1" y="380.6" width="0.9" height="0.9" fill="#5a8a5a"/>
<rect x="801.6" y="373.0" width="0.9" height="0.9" fill="#666"/>
<rect x="774.0" y="374.2" width="0.9" height="0.9" fill="#5a8a5a"/>
<rect x="787.3" y="380.8" width="0.9" height="0.9" fill="#5a8a5a"/>
<rect x="757.8" y="374.9" width="0.9" height="0.9" fill="#888"/>
<rect x="801.6" y="379.2" width="0.9" height="0.9" fill="#b05a5a"/>
<rect x="773.8" y="369.7" width="0.9" height="0.9" fill="#6a7fb0"/>
<rect x="799.8" y="378.1" width="0.9" height="0.9" fill="#5a8a5a"/>
<rect x="765.6" y="370.0" width="0.9" height="0.9" fill="#999"/>
<rect x="788.2" y="380.8" width="0.9" height="0.9" fill="#888"/>
<rect x="775.3" y="374.8" width="0.9" height="0.9" fill="#888"/>
<rect x="790.6" y="382.1" width="0.9" height="0.9" fill="#c08040"/>
<rect x="768.1" y="378.1" width="0.9" height="0.9" fill="#999"/>
<rect x="783.7" y="376.9" width="0.9" height="0.9" fill="#b05a5a"/>
<rect x="772.7" y="368.5" width="0.9" height="0.9" fill="#b05a5a"/>
<rect x="785.9" y="368.3" width="0.9" height="0.9" fill="#999"/>
<rect x="773.4" y="379.5" width="0.9" height="0.9" fill="#c08040"/>
<rect x="795.1" y="364.4" width="0.9" height="0.9" fill="#b05a5a"/>
<rect x="759.8" y="374.2" width="0.9" height="0.9" fill="#6a7fb0"/>
<rect x="792.4" y="366.9" width="0.9" height="0.9" fill="#6a7fb0"/>
<rect x="759.6" y="372.1" width="0.9" height="0.9" fill="#b05a5a"/>
<rect x="796.2" y="367.4" width="0.9" height="0.9" fill="#c08040"/>
<rect x="771.7" y="376.6" width="0.9" height="0.9" fill="#b05a5a"/>
<rect x="791.1" y="368.9" width="0.9" height="0.9" fill="#b05a5a"/>
<rect x="755.1" y="371.5" width="0.9" height="0.9" fill="#6a7fb0"/>
<rect x="796.1" y="379.2" width="0.9" height="0.9" fill="#888"/>
<rect x="756.7" y="370.6" width="0.9" height="0.9" fill="#999"/>
<rect x="785.9" y="375.5" width="0.9" height="0.9" fill="#888"/>
<rect x="772.5" y="377.9" width="0.9" height="0.9" fill="#888"/>
<rect x="791.9" y="372.8" width="0.9" height="0.9" fill="#6a7fb0"/>
<rect x="760.5" y="364.5" width="0.9" height="0.9" fill="#5a8a5a"/>
<rect x="794.0" y="370.9" width="0.9" height="0.9" fill="#666"/>
<rect x="754.6" y="375.0" width="0.9" height="0.9" fill="#6a7fb0"/>
<rect x="794.4" y="380.8" width="0.9" height="0.9" fill="#b05a5a"/>
<rect x="759.5" y="382.5" width="0.9" height="0.9" fill="#5a8a5a"/>
<rect x="787.6" y="382.0" width="0.9" height="0.9" fill="#c08040"/>
<rect x="765.4" y="369.1" width="0.9" height="0.9" fill="#666"/>
<rect x="789.8" y="378.5" width="0.9" height="0.9" fill="#6a7fb0"/>
<rect x="767.5" y="368.8" width="0.9" height="0.9" fill="#999"/>
<rect x="786.6" y="374.3" width="0.9" height="0.9" fill="#5a8a5a"/>
<rect x="769.2" y="369.4" width="0.9" height="0.9" fill="#b05a5a"/>
<rect x="787.4" y="366.1" width="0.9" height="0.9" fill="#5a8a5a"/>
<rect x="768.0" y="382.5" width="0.9" height="0.9" fill="#b05a5a"/>
<text x="786.0" y="363.5" font-family="Liberation Sans" font-size="3.5" font-weight="normal" fill="#d06070" text-anchor="middle" >Figure</text>
<text x="802.0" y="388.3" font-family="Liberation Sans" font-size="3.5" font-weight="normal" fill="#30a080" text-anchor="middle" >Caption</text>
<rect x="746.6" y="389.0" width="63.6" height="13.0" rx="0" fill="#c3e6ab" stroke="none" stroke-width="0" />
<rect x="747.2" y="390.3" width="3.6" height="1.1" rx="0" fill="#4e6e44" stroke="none" stroke-width="0" />
<rect x="751.7" y="390.3" width="4.2" height="1.1" rx="0" fill="#4e6e44" stroke="none" stroke-width="0" />
<rect x="756.6" y="390.3" width="4.0" height="1.1" rx="0" fill="#4e6e44" stroke="none" stroke-width="0" />
<rect x="761.8" y="390.3" width="3.4" height="1.1" rx="0" fill="#4e6e44" stroke="none" stroke-width="0" />
<rect x="765.8" y="390.3" width="2.6" height="1.1" rx="0" fill="#4e6e44" stroke="none" stroke-width="0" />
<rect x="769.0" y="390.3" width="2.2" height="1.1" rx="0" fill="#4e6e44" stroke="none" stroke-width="0" />
<rect x="772.3" y="390.3" width="3.6" height="1.1" rx="0" fill="#4e6e44" stroke="none" stroke-width="0" />
<rect x="776.9" y="390.3" width="4.3" height="1.1" rx="0" fill="#4e6e44" stroke="none" stroke-width="0" />
<rect x="782.3" y="390.3" width="3.6" height="1.1" rx="0" fill="#4e6e44" stroke="none" stroke-width="0" />
<rect x="786.9" y="390.3" width="3.7" height="1.1" rx="0" fill="#4e6e44" stroke="none" stroke-width="0" />
<rect x="791.6" y="390.3" width="3.6" height="1.1" rx="0" fill="#4e6e44" stroke="none" stroke-width="0" />
<rect x="796.2" y="390.3" width="2.2" height="1.1" rx="0" fill="#4e6e44" stroke="none" stroke-width="0" />
<rect x="799.5" y="390.3" width="3.1" height="1.1" rx="0" fill="#4e6e44" stroke="none" stroke-width="0" />
<rect x="803.6" y="390.3" width="1.9" height="1.1" rx="0" fill="#4e6e44" stroke="none" stroke-width="0" />
<rect x="806.2" y="390.3" width="1.6" height="1.1" rx="0" fill="#4e6e44" stroke="none" stroke-width="0" />
<rect x="808.9" y="390.3" width="0.6" height="1.1" rx="0" fill="#4e6e44" stroke="none" stroke-width="0" />
<rect x="747.2" y="392.8" width="2.8" height="1.1" rx="0" fill="#4e6e44" stroke="none" stroke-width="0" />
<rect x="751.1" y="392.8" width="4.3" height="1.1" rx="0" fill="#4e6e44" stroke="none" stroke-width="0" />
<rect x="756.3" y="392.8" width="2.4" height="1.1" rx="0" fill="#4e6e44" stroke="none" stroke-width="0" />
<rect x="759.5" y="392.8" width="3.0" height="1.1" rx="0" fill="#4e6e44" stroke="none" stroke-width="0" />
<rect x="763.2" y="392.8" width="3.0" height="1.1" rx="0" fill="#4e6e44" stroke="none" stroke-width="0" />
<rect x="767.2" y="392.8" width="4.8" height="1.1" rx="0" fill="#4e6e44" stroke="none" stroke-width="0" />
<rect x="772.6" y="392.8" width="3.5" height="1.1" rx="0" fill="#4e6e44" stroke="none" stroke-width="0" />
<rect x="776.7" y="392.8" width="1.9" height="1.1" rx="0" fill="#4e6e44" stroke="none" stroke-width="0" />
<rect x="779.7" y="392.8" width="3.5" height="1.1" rx="0" fill="#4e6e44" stroke="none" stroke-width="0" />
<rect x="784.4" y="392.8" width="3.1" height="1.1" rx="0" fill="#4e6e44" stroke="none" stroke-width="0" />
<rect x="788.1" y="392.8" width="2.9" height="1.1" rx="0" fill="#4e6e44" stroke="none" stroke-width="0" />
<rect x="791.9" y="392.8" width="4.8" height="1.1" rx="0" fill="#4e6e44" stroke="none" stroke-width="0" />
<rect x="797.8" y="392.8" width="3.2" height="1.1" rx="0" fill="#4e6e44" stroke="none" stroke-width="0" />
<rect x="801.9" y="392.8" width="1.9" height="1.1" rx="0" fill="#4e6e44" stroke="none" stroke-width="0" />
<rect x="804.7" y="392.8" width="2.2" height="1.1" rx="0" fill="#4e6e44" stroke="none" stroke-width="0" />
<rect x="807.6" y="392.8" width="1.6" height="1.1" rx="0" fill="#4e6e44" stroke="none" stroke-width="0" />
<rect x="747.2" y="395.3" width="3.9" height="1.1" rx="0" fill="#4e6e44" stroke="none" stroke-width="0" />
<rect x="751.8" y="395.3" width="4.9" height="1.1" rx="0" fill="#4e6e44" stroke="none" stroke-width="0" />
<rect x="757.3" y="395.3" width="4.5" height="1.1" rx="0" fill="#4e6e44" stroke="none" stroke-width="0" />
<rect x="762.5" y="395.3" width="1.6" height="1.1" rx="0" fill="#4e6e44" stroke="none" stroke-width="0" />
<rect x="765.1" y="395.3" width="2.3" height="1.1" rx="0" fill="#4e6e44" stroke="none" stroke-width="0" />
<rect x="768.5" y="395.3" width="2.2" height="1.1" rx="0" fill="#4e6e44" stroke="none" stroke-width="0" />
<rect x="771.3" y="395.3" width="4.2" height="1.1" rx="0" fill="#4e6e44" stroke="none" stroke-width="0" />
<rect x="776.5" y="395.3" width="4.5" height="1.1" rx="0" fill="#4e6e44" stroke="none" stroke-width="0" />
<rect x="782.1" y="395.3" width="1.8" height="1.1" rx="0" fill="#4e6e44" stroke="none" stroke-width="0" />
<rect x="784.8" y="395.3" width="4.0" height="1.1" rx="0" fill="#4e6e44" stroke="none" stroke-width="0" />
<rect x="789.7" y="395.3" width="4.8" height="1.1" rx="0" fill="#4e6e44" stroke="none" stroke-width="0" />
<rect x="795.2" y="395.3" width="4.9" height="1.1" rx="0" fill="#4e6e44" stroke="none" stroke-width="0" />
<rect x="801.1" y="395.3" width="1.5" height="1.1" rx="0" fill="#4e6e44" stroke="none" stroke-width="0" />
<rect x="803.3" y="395.3" width="3.8" height="1.1" rx="0" fill="#4e6e44" stroke="none" stroke-width="0" />
<rect x="808.1" y="395.3" width="1.4" height="1.1" rx="0" fill="#4e6e44" stroke="none" stroke-width="0" />
<rect x="747.2" y="397.8" width="4.1" height="1.1" rx="0" fill="#4e6e44" stroke="none" stroke-width="0" />
<rect x="752.0" y="397.8" width="4.5" height="1.1" rx="0" fill="#4e6e44" stroke="none" stroke-width="0" />
<rect x="757.4" y="397.8" width="1.7" height="1.1" rx="0" fill="#4e6e44" stroke="none" stroke-width="0" />
<rect x="759.9" y="397.8" width="3.5" height="1.1" rx="0" fill="#4e6e44" stroke="none" stroke-width="0" />
<rect x="764.3" y="397.8" width="3.9" height="1.1" rx="0" fill="#4e6e44" stroke="none" stroke-width="0" />
<rect x="768.8" y="397.8" width="4.3" height="1.1" rx="0" fill="#4e6e44" stroke="none" stroke-width="0" />
<rect x="773.9" y="397.8" width="3.8" height="1.1" rx="0" fill="#4e6e44" stroke="none" stroke-width="0" />
<rect x="778.7" y="397.8" width="3.0" height="1.1" rx="0" fill="#4e6e44" stroke="none" stroke-width="0" />
<rect x="782.5" y="397.8" width="4.3" height="1.1" rx="0" fill="#4e6e44" stroke="none" stroke-width="0" />
<rect x="787.9" y="397.8" width="4.2" height="1.1" rx="0" fill="#4e6e44" stroke="none" stroke-width="0" />
<rect x="793.1" y="397.8" width="2.5" height="1.1" rx="0" fill="#4e6e44" stroke="none" stroke-width="0" />
<rect x="796.2" y="397.8" width="4.9" height="1.1" rx="0" fill="#4e6e44" stroke="none" stroke-width="0" />
<rect x="802.2" y="397.8" width="4.4" height="1.1" rx="0" fill="#4e6e44" stroke="none" stroke-width="0" />
<rect x="807.3" y="397.8" width="2.2" height="1.1" rx="0" fill="#4e6e44" stroke="none" stroke-width="0" />
<rect x="747.2" y="400.3" width="4.4" height="1.1" rx="0" fill="#4e6e44" stroke="none" stroke-width="0" />
<rect x="752.6" y="400.3" width="2.6" height="1.1" rx="0" fill="#4e6e44" stroke="none" stroke-width="0" />
<rect x="756.0" y="400.3" width="4.6" height="1.1" rx="0" fill="#4e6e44" stroke="none" stroke-width="0" />
<rect x="761.4" y="400.3" width="3.9" height="1.1" rx="0" fill="#4e6e44" stroke="none" stroke-width="0" />
<rect x="766.3" y="400.3" width="4.6" height="1.1" rx="0" fill="#4e6e44" stroke="none" stroke-width="0" />
<rect x="772.0" y="400.3" width="2.5" height="1.1" rx="0" fill="#4e6e44" stroke="none" stroke-width="0" />
<rect x="775.1" y="400.3" width="2.4" height="1.1" rx="0" fill="#4e6e44" stroke="none" stroke-width="0" />
<rect x="778.4" y="400.3" width="3.6" height="1.1" rx="0" fill="#4e6e44" stroke="none" stroke-width="0" />
<rect x="783.0" y="400.3" width="4.6" height="1.1" rx="0" fill="#4e6e44" stroke="none" stroke-width="0" />
<rect x="788.3" y="400.3" width="4.4" height="1.1" rx="0" fill="#4e6e44" stroke="none" stroke-width="0" />
<rect x="793.8" y="400.3" width="4.5" height="1.1" rx="0" fill="#4e6e44" stroke="none" stroke-width="0" />
<rect x="799.2" y="400.3" width="2.5" height="1.1" rx="0" fill="#4e6e44" stroke="none" stroke-width="0" />
<rect x="802.8" y="400.3" width="4.3" height="1.1" rx="0" fill="#4e6e44" stroke="none" stroke-width="0" />
<rect x="808.1" y="400.3" width="1.4" height="1.1" rx="0" fill="#4e6e44" stroke="none" stroke-width="0" />
<rect x="752.7" y="402.8" width="52.9" height="23.4" rx="0" fill="#f6d0b0" stroke="none" stroke-width="0" />
<rect x="758.3" y="415.6" width="2.2" height="0.9" rx="0" fill="#8a6a58" stroke="none" stroke-width="0" />
<rect x="793.4" y="419.2" width="2.5" height="0.9" rx="0" fill="#6a5040" stroke="none" stroke-width="0" />
<rect x="784.3" y="418.2" width="1.6" height="0.9" rx="0" fill="#8a6a58" stroke="none" stroke-width="0" />
<rect x="800.3" y="416.3" width="0.8" height="0.9" rx="0" fill="#6a5040" stroke="none" stroke-width="0" />
<rect x="777.0" y="405.8" width="2.2" height="0.9" rx="0" fill="#8a6a58" stroke="none" stroke-width="0" />
<rect x="765.6" y="416.2" width="2.3" height="0.9" rx="0" fill="#a08070" stroke="none" stroke-width="0" />
<rect x="770.0" y="414.6" width="1.1" height="0.9" rx="0" fill="#8a6a58" stroke="none" stroke-width="0" />
<rect x="763.6" y="407.8" width="2.0" height="0.9" rx="0" fill="#6a5040" stroke="none" stroke-width="0" />
<rect x="782.9" y="411.5" width="2.1" height="0.9" rx="0" fill="#8a6a58" stroke="none" stroke-width="0" />
<rect x="766.3" y="423.4" width="1.6" height="0.9" rx="0" fill="#8a6a58" stroke="none" stroke-width="0" />
<rect x="772.6" y="413.7" width="0.9" height="0.9" rx="0" fill="#6a5040" stroke="none" stroke-width="0" />
<rect x="783.9" y="411.2" width="1.7" height="0.9" rx="0" fill="#8a6a58" stroke="none" stroke-width="0" />
<rect x="758.7" y="408.3" width="2.3" height="0.9" rx="0" fill="#a08070" stroke="none" stroke-width="0" />
<rect x="778.3" y="415.9" width="1.2" height="0.9" rx="0" fill="#6a5040" stroke="none" stroke-width="0" />
<rect x="775.3" y="423.9" width="2.1" height="0.9" rx="0" fill="#a08070" stroke="none" stroke-width="0" />
<rect x="802.2" y="409.3" width="0.9" height="0.9" rx="0" fill="#8a6a58" stroke="none" stroke-width="0" />
<rect x="803.7" y="411.9" width="0.8" height="0.9" rx="0" fill="#8a6a58" stroke="none" stroke-width="0" />
<rect x="781.9" y="422.3" width="1.6" height="0.9" rx="0" fill="#8a6a58" stroke="none" stroke-width="0" />
<rect x="797.1" y="417.4" width="2.4" height="0.9" rx="0" fill="#a08070" stroke="none" stroke-width="0" />
<rect x="802.0" y="409.4" width="1.8" height="0.9" rx="0" fill="#a08070" stroke="none" stroke-width="0" />
<rect x="758.5" y="423.3" width="1.7" height="0.9" rx="0" fill="#8a6a58" stroke="none" stroke-width="0" />
<rect x="776.4" y="407.4" width="2.4" height="0.9" rx="0" fill="#a08070" stroke="none" stroke-width="0" />
<rect x="765.1" y="404.8" width="1.2" height="0.9" rx="0" fill="#6a5040" stroke="none" stroke-width="0" />
<rect x="757.0" y="415.6" width="0.8" height="0.9" rx="0" fill="#8a6a58" stroke="none" stroke-width="0" />
<rect x="766.9" y="414.8" width="2.1" height="0.9" rx="0" fill="#6a5040" stroke="none" stroke-width="0" />
<rect x="756.8" y="407.0" width="2.1" height="0.9" rx="0" fill="#8a6a58" stroke="none" stroke-width="0" />
<rect x="787.8" y="410.3" width="1.8" height="0.9" rx="0" fill="#a08070" stroke="none" stroke-width="0" />
<rect x="759.3" y="410.8" width="1.2" height="0.9" rx="0" fill="#8a6a58" stroke="none" stroke-width="0" />
<rect x="772.7" y="412.0" width="1.6" height="0.9" rx="0" fill="#8a6a58" stroke="none" stroke-width="0" />
<rect x="799.7" y="422.7" width="1.6" height="0.9" rx="0" fill="#8a6a58" stroke="none" stroke-width="0" />
<rect x="793.9" y="407.3" width="2.2" height="0.9" rx="0" fill="#8a6a58" stroke="none" stroke-width="0" />
<rect x="800.7" y="422.2" width="2.3" height="0.9" rx="0" fill="#8a6a58" stroke="none" stroke-width="0" />
<rect x="792.9" y="424.1" width="2.4" height="0.9" rx="0" fill="#6a5040" stroke="none" stroke-width="0" />
<rect x="796.1" y="417.2" width="1.6" height="0.9" rx="0" fill="#6a5040" stroke="none" stroke-width="0" />
<rect x="770.1" y="408.9" width="1.0" height="0.9" rx="0" fill="#6a5040" stroke="none" stroke-width="0" />
<rect x="761.1" y="408.7" width="0.9" height="0.9" rx="0" fill="#a08070" stroke="none" stroke-width="0" />
<rect x="776.6" y="422.7" width="1.5" height="0.9" rx="0" fill="#8a6a58" stroke="none" stroke-width="0" />
<rect x="767.3" y="412.6" width="1.1" height="0.9" rx="0" fill="#6a5040" stroke="none" stroke-width="0" />
<rect x="782.5" y="410.2" width="2.2" height="0.9" rx="0" fill="#6a5040" stroke="none" stroke-width="0" />
<rect x="778.6" y="410.7" width="2.3" height="0.9" rx="0" fill="#8a6a58" stroke="none" stroke-width="0" />
<rect x="761.7" y="414.8" width="1.9" height="0.9" rx="0" fill="#a08070" stroke="none" stroke-width="0" />
<rect x="800.3" y="415.8" width="2.2" height="0.9" rx="0" fill="#8a6a58" stroke="none" stroke-width="0" />
<rect x="766.9" y="408.2" width="1.4" height="0.9" rx="0" fill="#6a5040" stroke="none" stroke-width="0" />
<rect x="803.9" y="423.4" width="1.0" height="0.9" rx="0" fill="#6a5040" stroke="none" stroke-width="0" />
<rect x="774.8" y="407.4" width="2.2" height="0.9" rx="0" fill="#6a5040" stroke="none" stroke-width="0" />
<rect x="761.2" y="417.4" width="1.6" height="0.9" rx="0" fill="#a08070" stroke="none" stroke-width="0" />
<rect x="771.0" y="406.9" width="0.8" height="0.9" rx="0" fill="#a08070" stroke="none" stroke-width="0" />
<rect x="768.3" y="411.6" width="0.9" height="0.9" rx="0" fill="#6a5040" stroke="none" stroke-width="0" />
<rect x="764.9" y="416.0" width="1.0" height="0.9" rx="0" fill="#8a6a58" stroke="none" stroke-width="0" />
<rect x="780.1" y="408.8" width="1.1" height="0.9" rx="0" fill="#a08070" stroke="none" stroke-width="0" />
<rect x="758.0" y="405.8" width="1.8" height="0.9" rx="0" fill="#6a5040" stroke="none" stroke-width="0" />
<rect x="792.1" y="407.7" width="1.0" height="0.9" rx="0" fill="#a08070" stroke="none" stroke-width="0" />
<rect x="789.4" y="421.0" width="1.8" height="0.9" rx="0" fill="#8a6a58" stroke="none" stroke-width="0" />
<rect x="754.5" y="418.5" width="1.7" height="0.9" rx="0" fill="#a08070" stroke="none" stroke-width="0" />
<rect x="799.8" y="414.9" width="1.4" height="0.9" rx="0" fill="#6a5040" stroke="none" stroke-width="0" />
<rect x="796.1" y="422.2" width="1.6" height="0.9" rx="0" fill="#8a6a58" stroke="none" stroke-width="0" />
<rect x="774.5" y="420.0" width="1.0" height="0.9" rx="0" fill="#a08070" stroke="none" stroke-width="0" />
<rect x="767.3" y="407.9" width="2.2" height="0.9" rx="0" fill="#6a5040" stroke="none" stroke-width="0" />
<rect x="755.8" y="418.7" width="1.8" height="0.9" rx="0" fill="#8a6a58" stroke="none" stroke-width="0" />
<rect x="771.8" y="423.6" width="2.4" height="0.9" rx="0" fill="#8a6a58" stroke="none" stroke-width="0" />
<rect x="760.0" y="419.0" width="2.2" height="0.9" rx="0" fill="#6a5040" stroke="none" stroke-width="0" />
<rect x="793.0" y="422.2" width="1.8" height="0.9" rx="0" fill="#8a6a58" stroke="none" stroke-width="0" />
<rect x="768.6" y="406.3" width="2.0" height="0.9" rx="0" fill="#6a5040" stroke="none" stroke-width="0" />
<rect x="779.7" y="415.1" width="1.7" height="0.9" rx="0" fill="#8a6a58" stroke="none" stroke-width="0" />
<rect x="766.2" y="405.9" width="1.9" height="0.9" rx="0" fill="#8a6a58" stroke="none" stroke-width="0" />
<rect x="759.1" y="409.3" width="2.2" height="0.9" rx="0" fill="#8a6a58" stroke="none" stroke-width="0" />
<rect x="755.0" y="423.5" width="2.1" height="0.9" rx="0" fill="#6a5040" stroke="none" stroke-width="0" />
<rect x="754.9" y="416.6" width="1.8" height="0.9" rx="0" fill="#a08070" stroke="none" stroke-width="0" />
<rect x="765.9" y="413.3" width="1.4" height="0.9" rx="0" fill="#8a6a58" stroke="none" stroke-width="0" />
<rect x="789.9" y="404.9" width="1.0" height="0.9" rx="0" fill="#6a5040" stroke="none" stroke-width="0" />
<rect x="754.0" y="421.5" width="51.0" height="0.7" rx="0" fill="#6a5040" stroke="none" stroke-width="0" />
<rect x="801.0" y="404.0" width="0.6" height="21.0" rx="0" fill="#9a7a68" stroke="none" stroke-width="0" />
<g><circle cx="214.3" cy="403.2" r="10.5" fill="#2fa56a" stroke="#1d3a2a" stroke-width="0.8"/><path d="M208,397 Q212,400 210,404 Q206,406 205,402Z M215,395 Q221,397 220,402 Q216,405 214,400Z M212,408 Q218,406 220,411 Q215,413 212,410Z" fill="#9fd8c0"/><g fill="#d9b34a" stroke="#4a3a10" stroke-width="0.6"><rect x="202.5" y="416.5" width="6" height="3"/><rect x="202.5" y="413.5" width="6" height="3"/><rect x="202.5" y="410.5" width="6" height="3"/><rect x="209" y="416.5" width="6" height="3"/><rect x="209" y="413.5" width="6" height="3"/></g><g fill="#3b5fc0" stroke="#1a2a60" stroke-width="0.5"><rect x="217.5" y="414" width="3.2" height="5.6"/><rect x="221.3" y="411" width="3.2" height="8.6"/><rect x="225.1" y="407" width="3.4" height="12.6"/></g><path d="M214,412 L228,402 M225,402 L228.5,401.5 L228,405" fill="none" stroke="#222" stroke-width="0.8"/></g>
<g fill="none" stroke="#3b94d4" stroke-width="1.4"><rect x="243.5" y="394.5" width="24.5" height="26" fill="#e6f3fb"/><path d="M243.5,398.5 L240.5,398.5 L240.5,420.5 L243.5,420.5"/><rect x="247.5" y="398.5" width="6.5" height="6.5"/><path d="M256,399.5 L265,399.5 M256,403 L265,403 M247.5,408 L265,408 M247.5,411.5 L265,411.5 M247.5,415 L265,415"/></g>
<g><path d="M273,401.5 L290.5,393.7 L308.6,401.5 L290.5,409Z" fill="#d9261c"/><path d="M280,406 L280,416 Q290.5,422 301,416 L301,406 L290.5,410.5Z" fill="#d9261c"/><path d="M304,403 L304,412" stroke="#d9261c" stroke-width="1.3"/></g>
<g fill="none" stroke="#777" stroke-width="1"><path d="M320,397 L320,422 L346,422Z"/><path d="M323.5,406 L323.5,418.5 L336,418.5Z"/><path d="M326,393 L330,391.5 L351,413.5 L351.5,419 L347,417.5 L325.5,396Z"/><path d="M328,397 L347,416"/></g>
<g transform="translate(266,717.8)"><rect x="-14" y="6.5" width="3.2" height="7.5" rx="1.2" fill="#2a2a2a"/><rect x="10.8" y="6.5" width="3.2" height="7.5" rx="1.2" fill="#2a2a2a"/><rect x="-11.5" y="2.2" width="23" height="19.5" rx="4.5" fill="#a9d8ea" stroke="#1d2a36" stroke-width="1.6"/><path d="M-8,3.2 Q-7.2,-0.8 -4.6,1.6 Q-2.4,-1.4 0,1.6 Q2.4,-1.4 4.6,1.6 Q7.2,-0.8 8,3.2Z" fill="#2a2a2a"/><rect x="-7.8" y="5" width="15.6" height="12.6" rx="1.5" fill="#eef3f8" stroke="#1d2a36" stroke-width="1.2"/><rect x="-7" y="13.2" width="14" height="3.6" fill="#dfe9f0"/><circle cx="-4.3" cy="8.4" r="1.6" fill="#fff" stroke="#333" stroke-width="1.2"/><circle cx="4.3" cy="8.4" r="1.6" fill="#fff" stroke="#333" stroke-width="1.2"/><circle cx="-6" cy="11.8" r="0.8" fill="#222"/><circle cx="6" cy="11.8" r="0.8" fill="#222"/><path d="M-1.8,11.4 L0,13 L1.8,11.4" fill="none" stroke="#222" stroke-width="1.1"/><path d="M-6,21.5 L6,21.5 L8.5,27.6 L-8.5,27.6Z" fill="#a9d8ea" stroke="#1d2a36" stroke-width="1.2"/><path d="M-2.5,21.8 Q0,25 2.5,21.8" fill="#1d2a36"/></g>
<g transform="translate(366.2,717.8)"><rect x="-14" y="6.5" width="3.2" height="7.5" rx="1.2" fill="#2a2a2a"/><rect x="10.8" y="6.5" width="3.2" height="7.5" rx="1.2" fill="#2a2a2a"/><rect x="-11.5" y="2.2" width="23" height="19.5" rx="4.5" fill="#a9d8ea" stroke="#1d2a36" stroke-width="1.6"/><path d="M-8,3.2 Q-7.2,-0.8 -4.6,1.6 Q-2.4,-1.4 0,1.6 Q2.4,-1.4 4.6,1.6 Q7.2,-0.8 8,3.2Z" fill="#2a2a2a"/><rect x="-7.8" y="5" width="15.6" height="12.6" rx="1.5" fill="#eef3f8" stroke="#1d2a36" stroke-width="1.2"/><rect x="-7" y="13.2" width="14" height="3.6" fill="#dfe9f0"/><circle cx="-4.3" cy="8.4" r="1.6" fill="#fff" stroke="#333" stroke-width="1.2"/><circle cx="4.3" cy="8.4" r="1.6" fill="#fff" stroke="#333" stroke-width="1.2"/><circle cx="-6" cy="11.8" r="0.8" fill="#222"/><circle cx="6" cy="11.8" r="0.8" fill="#222"/><path d="M-1.8,11.4 L0,13 L1.8,11.4" fill="none" stroke="#222" stroke-width="1.1"/><path d="M-6,21.5 L6,21.5 L8.5,27.6 L-8.5,27.6Z" fill="#a9d8ea" stroke="#1d2a36" stroke-width="1.2"/><path d="M-2.5,21.8 Q0,25 2.5,21.8" fill="#1d2a36"/></g>
<g transform="translate(464.7,717.8)"><rect x="-14" y="6.5" width="3.2" height="7.5" rx="1.2" fill="#2a2a2a"/><rect x="10.8" y="6.5" width="3.2" height="7.5" rx="1.2" fill="#2a2a2a"/><rect x="-11.5" y="2.2" width="23" height="19.5" rx="4.5" fill="#a9d8ea" stroke="#1d2a36" stroke-width="1.6"/><path d="M-8,3.2 Q-7.2,-0.8 -4.6,1.6 Q-2.4,-1.4 0,1.6 Q2.4,-1.4 4.6,1.6 Q7.2,-0.8 8,3.2Z" fill="#2a2a2a"/><rect x="-7.8" y="5" width="15.6" height="12.6" rx="1.5" fill="#eef3f8" stroke="#1d2a36" stroke-width="1.2"/><rect x="-7" y="13.2" width="14" height="3.6" fill="#dfe9f0"/><circle cx="-4.3" cy="8.4" r="1.6" fill="#fff" stroke="#333" stroke-width="1.2"/><circle cx="4.3" cy="8.4" r="1.6" fill="#fff" stroke="#333" stroke-width="1.2"/><circle cx="-6" cy="11.8" r="0.8" fill="#222"/><circle cx="6" cy="11.8" r="0.8" fill="#222"/><path d="M-1.8,11.4 L0,13 L1.8,11.4" fill="none" stroke="#222" stroke-width="1.1"/><path d="M-6,21.5 L6,21.5 L8.5,27.6 L-8.5,27.6Z" fill="#a9d8ea" stroke="#1d2a36" stroke-width="1.2"/><path d="M-2.5,21.8 Q0,25 2.5,21.8" fill="#1d2a36"/></g>
<g transform="translate(571,717.8)"><rect x="-14" y="6.5" width="3.2" height="7.5" rx="1.2" fill="#2a2a2a"/><rect x="10.8" y="6.5" width="3.2" height="7.5" rx="1.2" fill="#2a2a2a"/><rect x="-11.5" y="2.2" width="23" height="19.5" rx="4.5" fill="#a9d8ea" stroke="#1d2a36" stroke-width="1.6"/><path d="M-8,3.2 Q-7.2,-0.8 -4.6,1.6 Q-2.4,-1.4 0,1.6 Q2.4,-1.4 4.6,1.6 Q7.2,-0.8 8,3.2Z" fill="#2a2a2a"/><rect x="-7.8" y="5" width="15.6" height="12.6" rx="1.5" fill="#eef3f8" stroke="#1d2a36" stroke-width="1.2"/><rect x="-7" y="13.2" width="14" height="3.6" fill="#dfe9f0"/><circle cx="-4.3" cy="8.4" r="1.6" fill="#fff" stroke="#333" stroke-width="1.2"/><circle cx="4.3" cy="8.4" r="1.6" fill="#fff" stroke="#333" stroke-width="1.2"/><circle cx="-6" cy="11.8" r="0.8" fill="#222"/><circle cx="6" cy="11.8" r="0.8" fill="#222"/><path d="M-1.8,11.4 L0,13 L1.8,11.4" fill="none" stroke="#222" stroke-width="1.1"/><path d="M-6,21.5 L6,21.5 L8.5,27.6 L-8.5,27.6Z" fill="#a9d8ea" stroke="#1d2a36" stroke-width="1.2"/><path d="M-2.5,21.8 Q0,25 2.5,21.8" fill="#1d2a36"/></g>
<g transform="translate(670.2,717.8)"><rect x="-14" y="6.5" width="3.2" height="7.5" rx="1.2" fill="#2a2a2a"/><rect x="10.8" y="6.5" width="3.2" height="7.5" rx="1.2" fill="#2a2a2a"/><rect x="-11.5" y="2.2" width="23" height="19.5" rx="4.5" fill="#a9d8ea" stroke="#1d2a36" stroke-width="1.6"/><path d="M-8,3.2 Q-7.2,-0.8 -4.6,1.6 Q-2.4,-1.4 0,1.6 Q2.4,-1.4 4.6,1.6 Q7.2,-0.8 8,3.2Z" fill="#2a2a2a"/><rect x="-7.8" y="5" width="15.6" height="12.6" rx="1.5" fill="#eef3f8" stroke="#1d2a36" stroke-width="1.2"/><rect x="-7" y="13.2" width="14" height="3.6" fill="#dfe9f0"/><circle cx="-4.3" cy="8.4" r="1.6" fill="#fff" stroke="#333" stroke-width="1.2"/><circle cx="4.3" cy="8.4" r="1.6" fill="#fff" stroke="#333" stroke-width="1.2"/><circle cx="-6" cy="11.8" r="0.8" fill="#222"/><circle cx="6" cy="11.8" r="0.8" fill="#222"/><path d="M-1.8,11.4 L0,13 L1.8,11.4" fill="none" stroke="#222" stroke-width="1.1"/><path d="M-6,21.5 L6,21.5 L8.5,27.6 L-8.5,27.6Z" fill="#a9d8ea" stroke="#1d2a36" stroke-width="1.2"/><path d="M-2.5,21.8 Q0,25 2.5,21.8" fill="#1d2a36"/></g>
<g transform="translate(821.4,717.8)"><rect x="-14" y="6.5" width="3.2" height="7.5" rx="1.2" fill="#2a2a2a"/><rect x="10.8" y="6.5" width="3.2" height="7.5" rx="1.2" fill="#2a2a2a"/><rect x="-11.5" y="2.2" width="23" height="19.5" rx="4.5" fill="#a9d8ea" stroke="#1d2a36" stroke-width="1.6"/><path d="M-8,3.2 Q-7.2,-0.8 -4.6,1.6 Q-2.4,-1.4 0,1.6 Q2.4,-1.4 4.6,1.6 Q7.2,-0.8 8,3.2Z" fill="#2a2a2a"/><rect x="-7.8" y="5" width="15.6" height="12.6" rx="1.5" fill="#eef3f8" stroke="#1d2a36" stroke-width="1.2"/><rect x="-7" y="13.2" width="14" height="3.6" fill="#dfe9f0"/><circle cx="-4.3" cy="8.4" r="1.6" fill="#fff" stroke="#333" stroke-width="1.2"/><circle cx="4.3" cy="8.4" r="1.6" fill="#fff" stroke="#333" stroke-width="1.2"/><circle cx="-6" cy="11.8" r="0.8" fill="#222"/><circle cx="6" cy="11.8" r="0.8" fill="#222"/><path d="M-1.8,11.4 L0,13 L1.8,11.4" fill="none" stroke="#222" stroke-width="1.1"/><path d="M-6,21.5 L6,21.5 L8.5,27.6 L-8.5,27.6Z" fill="#a9d8ea" stroke="#1d2a36" stroke-width="1.2"/><path d="M-2.5,21.8 Q0,25 2.5,21.8" fill="#1d2a36"/></g></svg>
<div class="fl cap" style="left:181px;top:759px;width:662px;"><span>Figure&nbsp;1:&nbsp; <b>Overview</b></span><span><b>of</b></span><span><b>OmniLayout.</b></span><span>(Top</span><span>&amp;</span><span>Middle)</span><span>show</span><span>the</span><span>curation</span><span>and</span><span>examples</span><span>of</span><span>OmniLayout-1M.</span></div>
<div class="ln cap" style="left:181px;top:775.7px;">(Bottom) illustrates unconditional layouts generated by our OmniLayout-LLM via coarse-to-fine learning.</div>
<div class="ln" style="left:466.5px;top:815px;font-size:20.08px;letter-spacing:0.7px;">A<span style="font-size:16.4px">BSTRACT</span></div>
<div class="fl body" style="left:241px;top:858.0px;width:542px;"><span>Document</span><span>AI</span><span>has</span><span>advanced</span><span>rapidly</span><span>and</span><span>is</span><span>attracting</span><span>increasing</span><span style="margin-right:3px">attention.</span><span>Yet,</span></div>
<div class="fl body" style="left:241px;top:876.3px;width:542px;"><span>while</span><span>most</span><span>efforts</span><span>have</span><span>focused</span><span>on</span><span>document</span><span>layout</span><span>analysis</span><span>(DLA),</span><span>its</span><span>gener-</span></div>
<div class="fl body" style="left:241px;top:894.6px;width:542px;"><span>ative</span><span>counterpart,</span><span>document</span><span>layout</span><span>generation,</span><span>remains</span><span style="margin-right:3px">underexplored.</span><span>A</span><span>major</span></div>
<div class="fl body" style="left:241px;top:912.9px;width:542px;"><span>obstacle</span><span>lies</span><span>in</span><span>the</span><span>scarcity</span><span>of</span><span>diverse</span><span style="margin-right:2px">layouts:</span><span>academic</span><span>papers</span><span>with</span><span>Manhattan-</span></div>
<div class="fl body" style="left:241px;top:931.2px;width:542px;"><span>style</span><span>structures</span><span>dominate</span><span>existing</span><span>studies,</span><span>while</span><span>open-world</span><span>genres</span><span>such</span><span>as</span><span>news-</span></div>
<div class="fl body" style="left:241px;top:949.5px;width:542px;"><span>papers</span><span>and</span><span>magazines</span><span>remain</span><span>severely</span><span style="margin-right:3px">underrepresented.</span><span>To</span><span>address</span><span>this</span><span>gap,</span><span>we</span></div>
<div class="fl body" style="left:241px;top:967.8px;width:542px;"><span>curate</span><span>OmniLayout-1M,</span><span>the</span><span>first</span><span>million-scale</span><span>dataset</span><span>of</span><span>diverse</span><span>document</span><span>lay-</span></div>
<div class="fl body" style="left:241px;top:986.1px;width:542px;"><span>outs,</span><span>covering</span><span>six</span><span>common</span><span>document</span><span>types</span><span>and</span><span>comprising</span><span>contemporary</span><span>layouts</span></div>
<div class="fl body" style="left:241px;top:1004.4px;width:542px;"><span>collected</span><span>from</span><span>multiple</span><span style="margin-right:3px">sources.</span><span>Moreover,</span><span>since</span><span>existing</span><span>methods</span><span>struggle</span><span>in</span></div>
<div class="fl body" style="left:241px;top:1022.7px;width:542px;"><span>complex</span><span>domains</span><span>and</span><span>often</span><span>fail</span><span>to</span><span>arrange</span><span>long</span><span>sequences</span><span>coherently,</span><span>we</span><span>intro-</span></div>
<div class="fl body" style="left:241px;top:1041.0px;width:542px;"><span>duce</span><span>OmniLayout-LLM,</span><span>a</span><span>0.5B</span><span>model</span><span>with</span><span>designed</span><span>two-stage</span><span><i>Coarse-to-Fine</i></span></div>
<div class="fl body" style="left:241px;top:1059.3px;width:542px;"><span><i>learning</i></span><span style="margin-right:2px"><i>paradigm</i>:</span><span>1)</span><span>learning</span><span>universal</span><span>layout</span><span>principles</span><span>from</span><span>OmniLayout-1M</span></div>
<div class="fl body" style="left:241px;top:1077.6px;width:542px;"><span>with</span><span>coarse</span><span>category</span><span>definitions,</span><span>and</span><span>2)</span><span>transferring</span><span>the</span><span>knowledge</span><span>to</span><span>a</span><span>specific</span></div>
<div class="fl body" style="left:241px;top:1095.9px;width:542px;"><span>domain</span><span>with</span><span>fine-grained</span><span style="margin-right:3px">annotations.</span><span>Extensive</span><span>experiments</span><span>demonstrate</span><span>that</span></div>
<div class="fl body" style="left:241px;top:1114.2px;width:542px;"><span>our</span><span>approach</span><span>achieves</span><span>strong</span><span>performance</span><span>on</span><span>multiple</span><span>domains</span><span>in</span><span>M<sup>6</sup>Doc</span><span>dataset,</span></div>
<div class="fl body" style="left:241px;top:1132.5px;width:542px;"><span>substantially</span><span>surpassing</span><span>both</span><span>existing</span><span>layout</span><span>generation</span><span>experts</span><span>and</span><span>several</span><span>latest</span></div>
<div class="ln body" style="left:241px;top:1150.8px;">general-purpose LLMs. Our code, models, and dataset will be publicly released.</div>
<div class="a" style="left:181px;top:1186px;width:241px;height:1.3px;background:#3a3a3a;"></div>
<div class="ln fn" style="left:202px;top:1190px;"><sup>*</sup>These authors contributed equally to this work.</div>
<div class="ln fn" style="left:202px;top:1208px;"><sup>†</sup>Corresponding author(s). E-mail(s): liweij29@mail.sysu.edu.cn, heconghui@pjlab.org.cn</div>
<div class="ln body" style="left:507.5px;top:1256px;">1</div>
</body></html>
